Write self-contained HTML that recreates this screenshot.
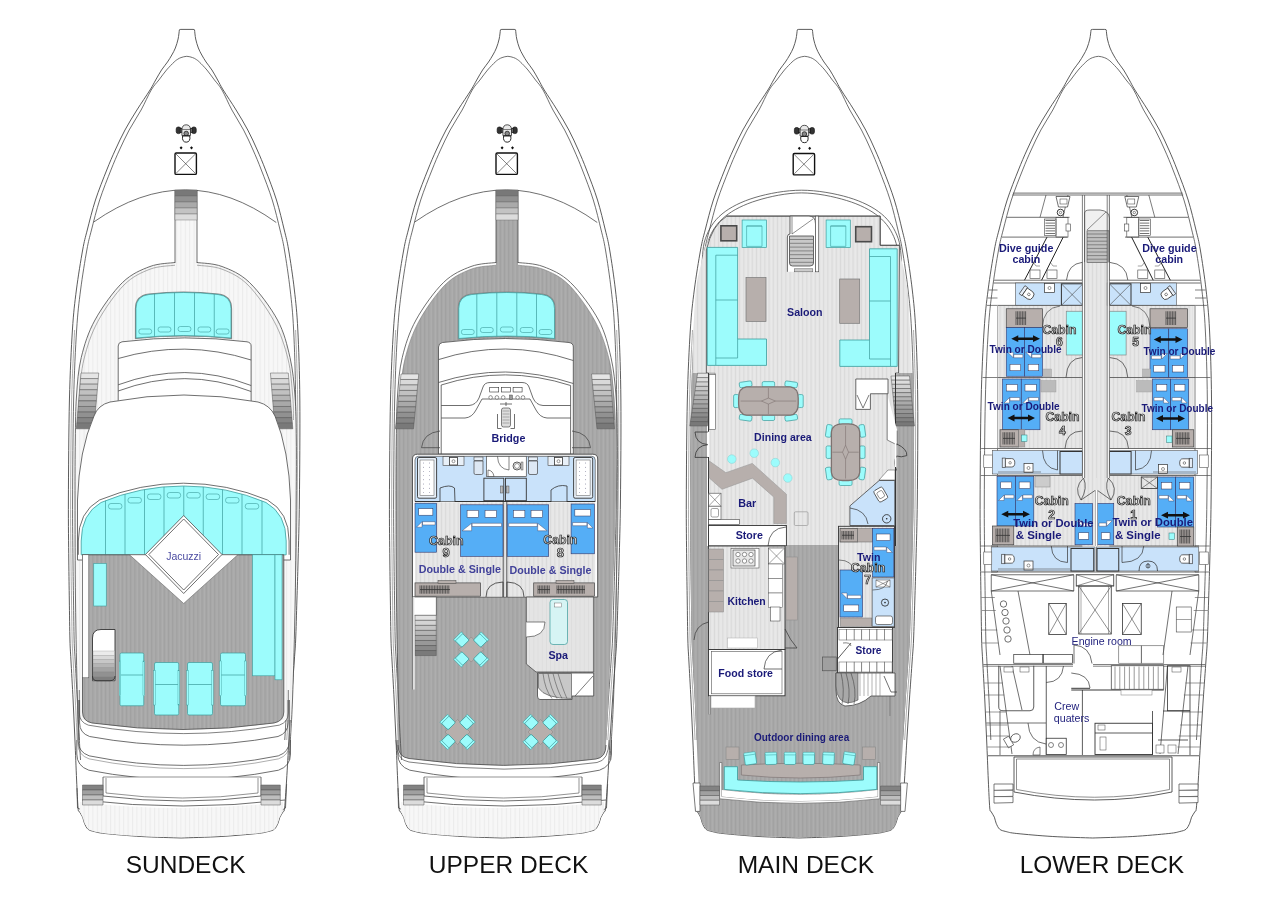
<!DOCTYPE html><html><head><meta charset="utf-8"><style>html,body{margin:0;padding:0;background:#fff;}svg{display:block;font-family:"Liberation Sans",sans-serif;will-change:transform;}</style></head><body>
<svg width="1280" height="903" viewBox="0 0 1280 903">
<defs>
<pattern id="pd" width="4.2" height="10" patternUnits="userSpaceOnUse"><rect width="4.2" height="10" fill="#a8a8a8"/><rect x="0" width="0.9" height="10" fill="#a0a0a0"/><rect x="2.3" width="0.9" height="10" fill="#b0b0b0"/></pattern>
<pattern id="pls" width="4.2" height="10" patternUnits="userSpaceOnUse"><rect width="4.2" height="10" fill="#e4e4e4"/><rect x="0" width="0.8" height="10" fill="#dcdcdc"/></pattern>
<pattern id="pl" width="4.2" height="10" patternUnits="userSpaceOnUse"><rect width="4.2" height="10" fill="#e5e5e5"/><rect x="0" width="0.9" height="10" fill="#d9d9d9"/><rect x="2.2" width="0.8" height="10" fill="#ececec"/></pattern>
<pattern id="pvl" width="4.4" height="10" patternUnits="userSpaceOnUse"><rect width="4.4" height="10" fill="#f7f7f7"/><rect x="0" width="1" height="10" fill="#ebebeb"/></pattern>
<linearGradient id="stg" x1="0" y1="0" x2="0" y2="1"><stop offset="0" stop-color="#777"/><stop offset="1" stop-color="#eee"/></linearGradient>
<linearGradient id="stg2" x1="0" y1="0" x2="0" y2="1"><stop offset="0" stop-color="#eee"/><stop offset="1" stop-color="#666"/></linearGradient>
</defs>
<rect width="1280" height="903" fill="#fff"/>
<path d="M181.08,838 C174.42,837.75 153.76,837.25 141.1,836.5 C128.44,835.75 112.95,834.33 105.12,833.5 C97.3,832.67 97,832.22 94.14,831.5 C91.28,830.78 89.58,830.58 87.96,829.2 C86.34,827.82 85.3,825.2 84.42,823.2 C83.53,821.2 83.52,819.15 82.67,817.2 C81.82,815.25 80.09,813.03 79.32,811.5 C78.55,809.97 78.51,813.25 78.05,808 C77.6,802.75 77.12,791.33 76.6,780 C76.09,768.67 75.54,753.33 74.95,740 C74.37,726.67 73.77,713.33 73.1,700 C72.43,686.67 71.46,670 70.93,660 C70.41,650 70.21,650 69.95,640 C69.68,630 69.51,613.33 69.32,600 C69.13,586.67 68.94,576.67 68.79,560 C68.63,543.33 68.29,526.67 68.4,500 C68.51,473.33 68.76,428.33 69.43,400 C70.1,371.67 71.26,348.33 72.42,330 C73.58,311.67 74.68,303.33 76.39,290 C78.09,276.67 80.83,260 82.65,250 C84.46,240 85.14,238.33 87.27,230 C89.41,221.67 92.22,210 95.46,200 C98.71,190 103.44,178.33 106.74,170 C110.04,161.67 112.22,156.67 115.26,150 C118.3,143.33 121.38,136.67 124.98,130 C128.59,123.33 132.73,116.67 136.9,110 C141.07,103.33 146.88,95 150.01,90 C153.14,85 153.75,83.33 155.67,80 C157.59,76.67 159.56,73 161.53,70 C163.49,67 165.76,64.5 167.47,62 C169.18,59.5 170.5,57.33 171.81,55 C173.12,52.67 174.3,50.67 175.35,48 C176.4,45.33 177.43,42 178.1,39 C178.76,36 179.14,31.5 179.35,30 Q179.15,29.4 180.85,29.4 L193.05,29.4 Q194.75,29.4 194.55,30 C194.74,31.5 195.06,36 195.7,39 C196.33,42 197.33,45.33 198.35,48 C199.37,50.67 200.52,52.67 201.81,55 C203.1,57.33 204.38,59.5 206.07,62 C207.76,64.5 209.99,67 211.93,70 C213.86,73 215.79,76.67 217.67,80 C219.55,83.33 220.14,85 223.21,90 C226.28,95 232,103.33 236.1,110 C240.19,116.67 244.25,123.33 247.78,130 C251.31,136.67 254.3,143.33 257.26,150 C260.22,156.67 262.34,161.67 265.54,170 C268.74,178.33 273.34,190 276.46,200 C279.58,210 282.24,221.67 284.27,230 C286.3,238.33 286.96,240 288.65,250 C290.33,260 292.86,276.67 294.39,290 C295.91,303.33 296.91,311.67 297.82,330 C298.73,348.33 299.57,371.67 299.83,400 C300.1,428.33 299.69,473.33 299.4,500 C299.11,526.67 298.5,543.33 298.09,560 C297.67,576.67 297.33,586.67 296.92,600 C296.51,613.33 296.08,630 295.65,640 C295.21,650 295.02,650 294.33,660 C293.64,670 292.39,686.67 291.5,700 C290.6,713.33 289.77,726.67 288.95,740 C288.14,753.33 287.32,768.67 286.6,780 C285.89,791.33 285.2,802.75 284.65,808 C284.11,813.25 284.12,809.97 283.32,811.5 C282.52,813.03 280.75,815.25 279.87,817.2 C278.99,819.15 278.93,821.2 278.02,823.2 C277.1,825.2 276.01,827.82 274.36,829.2 C272.72,830.58 271.01,830.78 268.14,831.5 C265.27,832.22 264.96,832.67 257.12,833.5 C249.28,834.33 233.77,835.75 221.1,836.5 C208.42,837.25 187.75,837.75 181.08,838" fill="none" stroke="#4a4a4a" stroke-width="0.9"/>
<path d="M79.15,740 C78.84,733.33 77.97,713.33 77.3,700 C76.63,686.67 75.66,670 75.13,660 C74.61,650 74.41,650 74.15,640 C73.88,630 73.71,613.33 73.52,600 C73.33,586.67 73.14,576.67 72.99,560 C72.83,543.33 72.49,526.67 72.6,500 C72.71,473.33 72.96,428.33 73.63,400 C74.3,371.67 75.46,348.33 76.62,330 C77.78,311.67 78.88,303.33 80.59,290 C82.29,276.67 85.03,260 86.85,250 C88.66,240 89.34,238.33 91.47,230 C93.61,221.67 96.42,210 99.66,200 C102.91,190 107.64,178.33 110.94,170 C114.24,161.67 116.42,156.67 119.46,150 C122.5,143.33 125.58,136.67 129.18,130 C132.79,123.33 137.43,116.67 141.1,110 C144.77,103.33 148.25,95 151.21,90 C154.17,85 156.32,83.33 158.87,80 C161.42,76.67 163.98,73 166.53,70 C169.08,67 172.29,63.8 174.17,62 C176.05,60.2 176.65,59.93 177.79,59.2 C178.92,58.47 179.49,58.08 180.99,57.6 C182.5,57.12 184.87,56.3 186.8,56.3 C188.73,56.3 191.1,57.12 192.59,57.6 C194.09,58.08 194.66,58.47 195.79,59.2 C196.91,59.93 197.51,60.2 199.37,62 C201.23,63.8 204.41,67 206.93,70 C209.44,73 211.95,76.67 214.47,80 C216.98,83.33 219.11,85 222.01,90 C224.92,95 228.3,103.33 231.9,110 C235.49,116.67 240.05,123.33 243.58,130 C247.11,136.67 250.1,143.33 253.06,150 C256.02,156.67 258.14,161.67 261.34,170 C264.54,178.33 269.14,190 272.26,200 C275.38,210 278.04,221.67 280.07,230 C282.1,238.33 282.76,240 284.45,250 C286.13,260 288.66,276.67 290.19,290 C291.71,303.33 292.71,311.67 293.62,330 C294.53,348.33 295.37,371.67 295.63,400 C295.9,428.33 295.49,473.33 295.2,500 C294.91,526.67 294.3,543.33 293.89,560 C293.47,576.67 293.13,586.67 292.72,600 C292.31,613.33 291.88,630 291.45,640 C291.01,650 290.82,650 290.13,660 C289.44,670 288.19,686.67 287.3,700 C286.4,713.33 285.18,733.33 284.75,740" fill="none" stroke="#4a4a4a" stroke-width="0.8"/>
<path d="M74.62,330 C74.12,341.67 72.3,371.67 71.63,400 C70.96,428.33 70.71,473.33 70.6,500 C70.49,526.67 70.83,543.33 70.99,560 C71.14,576.67 71.33,586.67 71.52,600 C71.71,613.33 71.88,630 72.15,640 C72.41,650 72.61,650 73.13,660 C73.66,670 74.63,686.67 75.3,700 C75.97,713.33 76.84,733.33 77.15,740" fill="none" stroke="#777" stroke-width="0.6"/>
<path d="M295.62,330 C295.95,341.67 297.37,371.67 297.63,400 C297.9,428.33 297.49,473.33 297.2,500 C296.91,526.67 296.3,543.33 295.89,560 C295.47,576.67 295.13,586.67 294.72,600 C294.31,613.33 293.88,630 293.45,640 C293.01,650 292.82,650 292.13,660 C291.44,670 290.19,686.67 289.3,700 C288.4,713.33 287.18,733.33 286.75,740" fill="none" stroke="#777" stroke-width="0.6"/>
<path d="M502.13,838 C495.47,837.75 474.81,837.25 462.15,836.5 C449.49,835.75 434,834.33 426.17,833.5 C418.35,832.67 418.05,832.22 415.19,831.5 C412.33,830.78 410.63,830.58 409.01,829.2 C407.39,827.82 406.35,825.2 405.47,823.2 C404.58,821.2 404.57,819.15 403.72,817.2 C402.87,815.25 401.14,813.03 400.37,811.5 C399.6,809.97 399.56,813.25 399.1,808 C398.65,802.75 398.17,791.33 397.65,780 C397.14,768.67 396.59,753.33 396,740 C395.42,726.67 394.82,713.33 394.15,700 C393.48,686.67 392.51,670 391.98,660 C391.46,650 391.26,650 391,640 C390.73,630 390.56,613.33 390.37,600 C390.18,586.67 389.99,576.67 389.84,560 C389.68,543.33 389.34,526.67 389.45,500 C389.56,473.33 389.81,428.33 390.48,400 C391.15,371.67 392.31,348.33 393.47,330 C394.63,311.67 395.73,303.33 397.44,290 C399.14,276.67 401.88,260 403.7,250 C405.51,240 406.19,238.33 408.32,230 C410.46,221.67 413.27,210 416.51,200 C419.76,190 424.49,178.33 427.79,170 C431.09,161.67 433.27,156.67 436.31,150 C439.35,143.33 442.43,136.67 446.03,130 C449.64,123.33 453.78,116.67 457.95,110 C462.12,103.33 467.93,95 471.06,90 C474.19,85 474.8,83.33 476.72,80 C478.64,76.67 480.61,73 482.58,70 C484.54,67 486.81,64.5 488.52,62 C490.23,59.5 491.55,57.33 492.86,55 C494.17,52.67 495.35,50.67 496.4,48 C497.45,45.33 498.48,42 499.15,39 C499.81,36 500.19,31.5 500.4,30 Q500.2,29.4 501.9,29.4 L514.1,29.4 Q515.8,29.4 515.6,30 C515.79,31.5 516.11,36 516.75,39 C517.38,42 518.38,45.33 519.4,48 C520.42,50.67 521.57,52.67 522.86,55 C524.15,57.33 525.43,59.5 527.12,62 C528.81,64.5 531.04,67 532.98,70 C534.91,73 536.84,76.67 538.72,80 C540.6,83.33 541.19,85 544.26,90 C547.33,95 553.05,103.33 557.15,110 C561.24,116.67 565.3,123.33 568.83,130 C572.36,136.67 575.35,143.33 578.31,150 C581.27,156.67 583.39,161.67 586.59,170 C589.79,178.33 594.39,190 597.51,200 C600.63,210 603.29,221.67 605.32,230 C607.35,238.33 608.01,240 609.7,250 C611.38,260 613.91,276.67 615.44,290 C616.96,303.33 617.96,311.67 618.87,330 C619.78,348.33 620.62,371.67 620.88,400 C621.15,428.33 620.74,473.33 620.45,500 C620.16,526.67 619.55,543.33 619.14,560 C618.72,576.67 618.38,586.67 617.97,600 C617.56,613.33 617.13,630 616.7,640 C616.26,650 616.07,650 615.38,660 C614.69,670 613.44,686.67 612.55,700 C611.65,713.33 610.82,726.67 610,740 C609.19,753.33 608.37,768.67 607.65,780 C606.94,791.33 606.25,802.75 605.7,808 C605.16,813.25 605.17,809.97 604.37,811.5 C603.57,813.03 601.8,815.25 600.92,817.2 C600.04,819.15 599.98,821.2 599.07,823.2 C598.15,825.2 597.06,827.82 595.41,829.2 C593.77,830.58 592.06,830.78 589.19,831.5 C586.32,832.22 586.01,832.67 578.17,833.5 C570.33,834.33 554.82,835.75 542.15,836.5 C529.47,837.25 508.8,837.75 502.13,838" fill="none" stroke="#4a4a4a" stroke-width="0.9"/>
<path d="M400.2,740 C399.89,733.33 399.02,713.33 398.35,700 C397.68,686.67 396.71,670 396.18,660 C395.66,650 395.46,650 395.2,640 C394.93,630 394.76,613.33 394.57,600 C394.38,586.67 394.19,576.67 394.04,560 C393.88,543.33 393.54,526.67 393.65,500 C393.76,473.33 394.01,428.33 394.68,400 C395.35,371.67 396.51,348.33 397.67,330 C398.83,311.67 399.93,303.33 401.64,290 C403.34,276.67 406.08,260 407.9,250 C409.71,240 410.39,238.33 412.52,230 C414.66,221.67 417.47,210 420.71,200 C423.96,190 428.69,178.33 431.99,170 C435.29,161.67 437.47,156.67 440.51,150 C443.55,143.33 446.63,136.67 450.23,130 C453.84,123.33 458.48,116.67 462.15,110 C465.82,103.33 469.3,95 472.26,90 C475.22,85 477.37,83.33 479.92,80 C482.47,76.67 485.03,73 487.58,70 C490.13,67 493.34,63.8 495.22,62 C497.1,60.2 497.7,59.93 498.84,59.2 C499.97,58.47 500.54,58.08 502.04,57.6 C503.55,57.12 505.92,56.3 507.85,56.3 C509.78,56.3 512.15,57.12 513.64,57.6 C515.14,58.08 515.71,58.47 516.84,59.2 C517.96,59.93 518.56,60.2 520.42,62 C522.28,63.8 525.46,67 527.98,70 C530.49,73 533,76.67 535.52,80 C538.03,83.33 540.16,85 543.06,90 C545.97,95 549.35,103.33 552.95,110 C556.54,116.67 561.1,123.33 564.63,130 C568.16,136.67 571.15,143.33 574.11,150 C577.07,156.67 579.19,161.67 582.39,170 C585.59,178.33 590.19,190 593.31,200 C596.43,210 599.09,221.67 601.12,230 C603.15,238.33 603.81,240 605.5,250 C607.18,260 609.71,276.67 611.24,290 C612.76,303.33 613.76,311.67 614.67,330 C615.58,348.33 616.42,371.67 616.68,400 C616.95,428.33 616.54,473.33 616.25,500 C615.96,526.67 615.35,543.33 614.94,560 C614.52,576.67 614.18,586.67 613.77,600 C613.36,613.33 612.93,630 612.5,640 C612.06,650 611.87,650 611.18,660 C610.49,670 609.24,686.67 608.35,700 C607.45,713.33 606.23,733.33 605.8,740" fill="none" stroke="#4a4a4a" stroke-width="0.8"/>
<path d="M395.67,330 C395.17,341.67 393.35,371.67 392.68,400 C392.01,428.33 391.76,473.33 391.65,500 C391.54,526.67 391.88,543.33 392.04,560 C392.19,576.67 392.38,586.67 392.57,600 C392.76,613.33 392.93,630 393.2,640 C393.46,650 393.66,650 394.18,660 C394.71,670 395.68,686.67 396.35,700 C397.02,713.33 397.89,733.33 398.2,740" fill="none" stroke="#777" stroke-width="0.6"/>
<path d="M616.67,330 C617,341.67 618.42,371.67 618.68,400 C618.95,428.33 618.54,473.33 618.25,500 C617.96,526.67 617.35,543.33 616.94,560 C616.52,576.67 616.18,586.67 615.77,600 C615.36,613.33 614.93,630 614.5,640 C614.06,650 613.87,650 613.18,660 C612.49,670 611.24,686.67 610.35,700 C609.45,713.33 608.23,733.33 607.8,740" fill="none" stroke="#777" stroke-width="0.6"/>
<path d="M798.98,838 C792.32,837.75 771.66,837.25 759,836.5 C746.34,835.75 730.85,834.33 723.02,833.5 C715.2,832.67 714.9,832.22 712.04,831.5 C709.18,830.78 707.48,830.58 705.86,829.2 C704.24,827.82 703.2,825.2 702.32,823.2 C701.43,821.2 701.42,819.15 700.57,817.2 C699.72,815.25 697.99,813.03 697.22,811.5 C696.45,809.97 696.41,813.25 695.95,808 C695.5,802.75 695.02,791.33 694.5,780 C693.99,768.67 693.44,753.33 692.85,740 C692.27,726.67 691.67,713.33 691,700 C690.33,686.67 689.36,670 688.83,660 C688.31,650 688.11,650 687.85,640 C687.58,630 687.41,613.33 687.22,600 C687.03,586.67 686.84,576.67 686.69,560 C686.53,543.33 686.19,526.67 686.3,500 C686.41,473.33 686.66,428.33 687.33,400 C688,371.67 689.16,348.33 690.32,330 C691.48,311.67 692.58,303.33 694.29,290 C695.99,276.67 698.73,260 700.55,250 C702.36,240 703.04,238.33 705.17,230 C707.31,221.67 710.12,210 713.36,200 C716.61,190 721.34,178.33 724.64,170 C727.94,161.67 730.12,156.67 733.16,150 C736.2,143.33 739.28,136.67 742.88,130 C746.49,123.33 750.63,116.67 754.8,110 C758.97,103.33 764.78,95 767.91,90 C771.04,85 771.65,83.33 773.57,80 C775.49,76.67 777.46,73 779.43,70 C781.39,67 783.66,64.5 785.37,62 C787.08,59.5 788.4,57.33 789.71,55 C791.02,52.67 792.2,50.67 793.25,48 C794.3,45.33 795.33,42 796,39 C796.66,36 797.04,31.5 797.25,30 Q797.05,29.4 798.75,29.4 L810.95,29.4 Q812.65,29.4 812.45,30 C812.64,31.5 812.96,36 813.6,39 C814.23,42 815.23,45.33 816.25,48 C817.27,50.67 818.42,52.67 819.71,55 C821,57.33 822.28,59.5 823.97,62 C825.66,64.5 827.89,67 829.83,70 C831.76,73 833.69,76.67 835.57,80 C837.45,83.33 838.04,85 841.11,90 C844.18,95 849.9,103.33 854,110 C858.09,116.67 862.15,123.33 865.68,130 C869.21,136.67 872.2,143.33 875.16,150 C878.12,156.67 880.24,161.67 883.44,170 C886.64,178.33 891.24,190 894.36,200 C897.48,210 900.14,221.67 902.17,230 C904.2,238.33 904.86,240 906.55,250 C908.23,260 910.76,276.67 912.29,290 C913.81,303.33 914.81,311.67 915.72,330 C916.63,348.33 917.47,371.67 917.73,400 C918,428.33 917.59,473.33 917.3,500 C917.01,526.67 916.4,543.33 915.99,560 C915.57,576.67 915.23,586.67 914.82,600 C914.41,613.33 913.98,630 913.55,640 C913.11,650 912.92,650 912.23,660 C911.54,670 910.29,686.67 909.4,700 C908.5,713.33 907.67,726.67 906.85,740 C906.04,753.33 905.22,768.67 904.5,780 C903.79,791.33 903.1,802.75 902.55,808 C902.01,813.25 902.02,809.97 901.22,811.5 C900.42,813.03 898.65,815.25 897.77,817.2 C896.89,819.15 896.83,821.2 895.92,823.2 C895,825.2 893.91,827.82 892.26,829.2 C890.62,830.58 888.91,830.78 886.04,831.5 C883.17,832.22 882.86,832.67 875.02,833.5 C867.18,834.33 851.67,835.75 839,836.5 C826.32,837.25 805.65,837.75 798.98,838" fill="none" stroke="#4a4a4a" stroke-width="0.9"/>
<path d="M697.05,740 C696.74,733.33 695.87,713.33 695.2,700 C694.53,686.67 693.56,670 693.03,660 C692.51,650 692.31,650 692.05,640 C691.78,630 691.61,613.33 691.42,600 C691.23,586.67 691.04,576.67 690.89,560 C690.73,543.33 690.39,526.67 690.5,500 C690.61,473.33 690.86,428.33 691.53,400 C692.2,371.67 693.36,348.33 694.52,330 C695.68,311.67 696.78,303.33 698.49,290 C700.19,276.67 702.93,260 704.75,250 C706.56,240 707.24,238.33 709.37,230 C711.51,221.67 714.32,210 717.56,200 C720.81,190 725.54,178.33 728.84,170 C732.14,161.67 734.32,156.67 737.36,150 C740.4,143.33 743.48,136.67 747.08,130 C750.69,123.33 755.33,116.67 759,110 C762.67,103.33 766.15,95 769.11,90 C772.07,85 774.22,83.33 776.77,80 C779.32,76.67 781.88,73 784.43,70 C786.98,67 790.19,63.8 792.07,62 C793.95,60.2 794.55,59.93 795.69,59.2 C796.82,58.47 797.39,58.08 798.89,57.6 C800.4,57.12 802.77,56.3 804.7,56.3 C806.63,56.3 809,57.12 810.49,57.6 C811.99,58.08 812.56,58.47 813.69,59.2 C814.81,59.93 815.41,60.2 817.27,62 C819.13,63.8 822.31,67 824.83,70 C827.34,73 829.85,76.67 832.37,80 C834.88,83.33 837.01,85 839.91,90 C842.82,95 846.2,103.33 849.8,110 C853.39,116.67 857.95,123.33 861.48,130 C865.01,136.67 868,143.33 870.96,150 C873.92,156.67 876.04,161.67 879.24,170 C882.44,178.33 887.04,190 890.16,200 C893.28,210 895.94,221.67 897.97,230 C900,238.33 900.66,240 902.35,250 C904.03,260 906.56,276.67 908.09,290 C909.61,303.33 910.61,311.67 911.52,330 C912.43,348.33 913.27,371.67 913.53,400 C913.8,428.33 913.39,473.33 913.1,500 C912.81,526.67 912.2,543.33 911.79,560 C911.37,576.67 911.03,586.67 910.62,600 C910.21,613.33 909.78,630 909.35,640 C908.91,650 908.72,650 908.03,660 C907.34,670 906.09,686.67 905.2,700 C904.3,713.33 903.08,733.33 902.65,740" fill="none" stroke="#4a4a4a" stroke-width="0.8"/>
<path d="M692.52,330 C692.02,341.67 690.2,371.67 689.53,400 C688.86,428.33 688.61,473.33 688.5,500 C688.39,526.67 688.73,543.33 688.89,560 C689.04,576.67 689.23,586.67 689.42,600 C689.61,613.33 689.78,630 690.05,640 C690.31,650 690.51,650 691.03,660 C691.56,670 692.53,686.67 693.2,700 C693.87,713.33 694.74,733.33 695.05,740" fill="none" stroke="#777" stroke-width="0.6"/>
<path d="M913.52,330 C913.85,341.67 915.27,371.67 915.53,400 C915.8,428.33 915.39,473.33 915.1,500 C914.81,526.67 914.2,543.33 913.79,560 C913.37,576.67 913.03,586.67 912.62,600 C912.21,613.33 911.78,630 911.35,640 C910.91,650 910.72,650 910.03,660 C909.34,670 908.09,686.67 907.2,700 C906.3,713.33 905.08,733.33 904.65,740" fill="none" stroke="#777" stroke-width="0.6"/>
<path d="M1092.78,838 C1086.12,837.75 1065.46,837.25 1052.8,836.5 C1040.14,835.75 1024.65,834.33 1016.82,833.5 C1009,832.67 1008.7,832.22 1005.84,831.5 C1002.98,830.78 1001.28,830.58 999.66,829.2 C998.04,827.82 997,825.2 996.12,823.2 C995.23,821.2 995.22,819.15 994.37,817.2 C993.52,815.25 991.79,813.03 991.02,811.5 C990.25,809.97 990.21,813.25 989.75,808 C989.3,802.75 988.82,791.33 988.3,780 C987.79,768.67 987.24,753.33 986.65,740 C986.07,726.67 985.47,713.33 984.8,700 C984.13,686.67 983.16,670 982.63,660 C982.11,650 981.91,650 981.65,640 C981.38,630 981.21,613.33 981.02,600 C980.83,586.67 980.64,576.67 980.49,560 C980.33,543.33 979.99,526.67 980.1,500 C980.21,473.33 980.46,428.33 981.13,400 C981.8,371.67 982.96,348.33 984.12,330 C985.28,311.67 986.38,303.33 988.09,290 C989.79,276.67 992.53,260 994.35,250 C996.16,240 996.84,238.33 998.97,230 C1001.11,221.67 1003.92,210 1007.16,200 C1010.41,190 1015.14,178.33 1018.44,170 C1021.74,161.67 1023.92,156.67 1026.96,150 C1030,143.33 1033.08,136.67 1036.68,130 C1040.29,123.33 1044.43,116.67 1048.6,110 C1052.77,103.33 1058.58,95 1061.71,90 C1064.84,85 1065.45,83.33 1067.37,80 C1069.29,76.67 1071.26,73 1073.23,70 C1075.19,67 1077.46,64.5 1079.17,62 C1080.88,59.5 1082.2,57.33 1083.51,55 C1084.82,52.67 1086,50.67 1087.05,48 C1088.1,45.33 1089.13,42 1089.8,39 C1090.46,36 1090.84,31.5 1091.05,30 Q1090.85,29.4 1092.55,29.4 L1104.75,29.4 Q1106.45,29.4 1106.25,30 C1106.44,31.5 1106.76,36 1107.4,39 C1108.03,42 1109.03,45.33 1110.05,48 C1111.07,50.67 1112.22,52.67 1113.51,55 C1114.8,57.33 1116.08,59.5 1117.77,62 C1119.46,64.5 1121.69,67 1123.63,70 C1125.56,73 1127.49,76.67 1129.37,80 C1131.25,83.33 1131.84,85 1134.91,90 C1137.98,95 1143.7,103.33 1147.8,110 C1151.89,116.67 1155.95,123.33 1159.48,130 C1163.01,136.67 1166,143.33 1168.96,150 C1171.92,156.67 1174.04,161.67 1177.24,170 C1180.44,178.33 1185.04,190 1188.16,200 C1191.28,210 1193.94,221.67 1195.97,230 C1198,238.33 1198.66,240 1200.35,250 C1202.03,260 1204.56,276.67 1206.09,290 C1207.61,303.33 1208.61,311.67 1209.52,330 C1210.43,348.33 1211.27,371.67 1211.53,400 C1211.8,428.33 1211.39,473.33 1211.1,500 C1210.81,526.67 1210.2,543.33 1209.79,560 C1209.37,576.67 1209.03,586.67 1208.62,600 C1208.21,613.33 1207.78,630 1207.35,640 C1206.91,650 1206.72,650 1206.03,660 C1205.34,670 1204.09,686.67 1203.2,700 C1202.3,713.33 1201.47,726.67 1200.65,740 C1199.84,753.33 1199.02,768.67 1198.3,780 C1197.59,791.33 1196.9,802.75 1196.35,808 C1195.81,813.25 1195.82,809.97 1195.02,811.5 C1194.22,813.03 1192.45,815.25 1191.57,817.2 C1190.69,819.15 1190.63,821.2 1189.72,823.2 C1188.8,825.2 1187.71,827.82 1186.06,829.2 C1184.42,830.58 1182.71,830.78 1179.84,831.5 C1176.97,832.22 1176.66,832.67 1168.82,833.5 C1160.98,834.33 1145.47,835.75 1132.8,836.5 C1120.12,837.25 1099.45,837.75 1092.78,838" fill="none" stroke="#4a4a4a" stroke-width="0.9"/>
<path d="M990.85,740 C990.54,733.33 989.67,713.33 989,700 C988.33,686.67 987.36,670 986.83,660 C986.31,650 986.11,650 985.85,640 C985.58,630 985.41,613.33 985.22,600 C985.03,586.67 984.84,576.67 984.69,560 C984.53,543.33 984.19,526.67 984.3,500 C984.41,473.33 984.66,428.33 985.33,400 C986,371.67 987.16,348.33 988.32,330 C989.48,311.67 990.58,303.33 992.29,290 C993.99,276.67 996.73,260 998.55,250 C1000.36,240 1001.04,238.33 1003.17,230 C1005.31,221.67 1008.12,210 1011.36,200 C1014.61,190 1019.34,178.33 1022.64,170 C1025.94,161.67 1028.12,156.67 1031.16,150 C1034.2,143.33 1037.28,136.67 1040.88,130 C1044.49,123.33 1049.13,116.67 1052.8,110 C1056.47,103.33 1059.95,95 1062.91,90 C1065.87,85 1068.02,83.33 1070.57,80 C1073.12,76.67 1075.68,73 1078.23,70 C1080.78,67 1083.99,63.8 1085.87,62 C1087.75,60.2 1088.35,59.93 1089.49,59.2 C1090.62,58.47 1091.19,58.08 1092.69,57.6 C1094.2,57.12 1096.57,56.3 1098.5,56.3 C1100.43,56.3 1102.8,57.12 1104.29,57.6 C1105.79,58.08 1106.36,58.47 1107.49,59.2 C1108.61,59.93 1109.21,60.2 1111.07,62 C1112.93,63.8 1116.11,67 1118.63,70 C1121.14,73 1123.65,76.67 1126.17,80 C1128.68,83.33 1130.81,85 1133.71,90 C1136.62,95 1140,103.33 1143.6,110 C1147.19,116.67 1151.75,123.33 1155.28,130 C1158.81,136.67 1161.8,143.33 1164.76,150 C1167.72,156.67 1169.84,161.67 1173.04,170 C1176.24,178.33 1180.84,190 1183.96,200 C1187.08,210 1189.74,221.67 1191.77,230 C1193.8,238.33 1194.46,240 1196.15,250 C1197.83,260 1200.36,276.67 1201.89,290 C1203.41,303.33 1204.41,311.67 1205.32,330 C1206.23,348.33 1207.07,371.67 1207.33,400 C1207.6,428.33 1207.19,473.33 1206.9,500 C1206.61,526.67 1206,543.33 1205.59,560 C1205.17,576.67 1204.83,586.67 1204.42,600 C1204.01,613.33 1203.58,630 1203.15,640 C1202.71,650 1202.52,650 1201.83,660 C1201.14,670 1199.89,686.67 1199,700 C1198.1,713.33 1196.88,733.33 1196.45,740" fill="none" stroke="#4a4a4a" stroke-width="0.8"/>
<g transform="translate(0,0)">
<g transform="translate(0,0)">
<g stroke="#111" stroke-width="0.7">
<rect x="176.2" y="127" width="4.6" height="6.6" rx="2" fill="#333"/>
<rect x="191.6" y="127" width="4.6" height="6.6" rx="2" fill="#333"/>
<rect x="180.2" y="128.3" width="2" height="4" fill="#777"/>
<rect x="190.2" y="128.3" width="2" height="4" fill="#777"/>
<path d="M181.9,135.5 L181.9,130 Q181.9,124.8 186.2,124.8 Q190.5,124.8 190.5,130 L190.5,135.5 Z" fill="#e8e8e8"/>
<path d="M182.2,129.5 L190.2,129.5" stroke-width="0.5"/>
<circle cx="186.2" cy="133.5" r="2.3" fill="#888"/>
<path d="M182.6,136 Q181.7,142 186.2,142.2 Q190.7,142 189.8,136 Z" fill="#fff" stroke-width="0.9"/>
</g>
<path d="M181.1,146.2 l1.5,1.6 l-1.5,1.6 l-1.5,-1.6Z M191.5,146.2 l1.5,1.6 l-1.5,1.6 l-1.5,-1.6Z" fill="#111"/>
<rect x="175" y="153" width="21.4" height="21.4" rx="1.2" fill="#fff" stroke="#111" stroke-width="1.4"/>
<path d="M176,154 L195.4,173.4 M195.4,154 L176,173.4" stroke="#333" stroke-width="0.6"/>
</g>
<clipPath id="fwdclip0"><rect x="0" y="180" width="400" height="540"/></clipPath>
<path d="M80.5,760 C80,750 78.33,726.67 77.5,700 C76.67,673.33 75.92,633.33 75.5,600 C75.08,566.67 75.03,526.67 75,500 C74.97,473.33 75.05,457.33 75.3,440 C75.55,422.67 75.51,409.75 76.5,396 C77.49,382.25 78.17,370.17 81.25,357.5 C84.33,344.83 88.12,332.5 95,320 C101.88,307.5 113.33,291.42 122.5,282.5 C131.67,273.58 141.25,269.83 150,266.5 C158.75,263.17 170.83,263.17 175,262.5 L175,190 L197,190 L197,262.5 C201.17,263.17 213.25,263.17 222,266.5 C230.75,269.83 240.25,273.58 249.5,282.5 C258.75,291.42 270.75,307.5 277.5,320 C284.25,332.5 287.08,344.83 290,357.5 C292.92,370.17 293.95,382.25 295,396 C296.05,409.75 296.1,422.67 296.3,440 C296.5,457.33 296.38,473.33 296.2,500 C296.02,526.67 295.82,566.67 295.2,600 C294.58,633.33 293.53,673.33 292.5,700 C291.47,726.67 289.58,750 289,760 Z" fill="url(#pvl)" stroke="none" clip-path="url(#fwdclip0)"/>
<path d="M175,262.5 C170.83,263.17 158.75,263.17 150,266.5 C141.25,269.83 131.67,273.58 122.5,282.5 C113.33,291.42 101.88,307.5 95,320 C88.12,332.5 84.33,344.83 81.25,357.5 C78.17,370.17 77.49,382.25 76.5,396 C75.51,409.75 75.55,422.67 75.3,440 C75.05,457.33 74.97,473.33 75,500 C75.03,526.67 75.08,566.67 75.5,600 C75.92,633.33 76.67,673.33 77.5,700 C78.33,726.67 80,750 80.5,760" fill="none" stroke="#4a4a4a" stroke-width="0.8"/>
<path d="M197,262.5 C201.17,263.17 213.25,263.17 222,266.5 C230.75,269.83 240.25,273.58 249.5,282.5 C258.75,291.42 270.75,307.5 277.5,320 C284.25,332.5 287.08,344.83 290,357.5 C292.92,370.17 293.95,382.25 295,396 C296.05,409.75 296.1,422.67 296.3,440 C296.5,457.33 296.38,473.33 296.2,500 C296.02,526.67 295.82,566.67 295.2,600 C294.58,633.33 293.53,673.33 292.5,700 C291.47,726.67 289.58,750 289,760" fill="none" stroke="#4a4a4a" stroke-width="0.8"/>
<path d="M175,265.2 C170.83,265.87 158.5,265.9 150,269.2 C141.5,272.5 132.7,276.28 124,285 C115.3,293.72 104.47,309.17 97.8,321.5 C91.13,333.83 87.08,346.58 84,359 C80.92,371.42 80.22,385.83 79.3,396 C78.38,406.17 78.63,416 78.5,420" fill="none" stroke="#777" stroke-width="0.6"/>
<path d="M197,265.2 C201.17,265.87 213.5,265.9 222,269.2 C230.5,272.5 239.3,276.28 248,285 C256.7,293.72 267.53,309.17 274.2,321.5 C280.87,333.83 284.92,346.58 288,359 C291.08,371.42 291.78,385.83 292.7,396 C293.62,406.17 293.37,416 293.5,420" fill="none" stroke="#777" stroke-width="0.6"/>
<path d="M93.75,222 Q186,157.5 276.25,222.5" fill="none" stroke="#4a4a4a" stroke-width="0.8"/>
<path d="M175,190 L175,263 M197,190 L197,263" stroke="#4a4a4a" stroke-width="0.8"/>
<rect x="175" y="190" width="22" height="6" fill="#787878" stroke="#666" stroke-width="0.4"/>
<rect x="175" y="196" width="22" height="6" fill="#919191" stroke="#666" stroke-width="0.4"/>
<rect x="175" y="202" width="22" height="6" fill="#aaaaaa" stroke="#666" stroke-width="0.4"/>
<rect x="175" y="208" width="22" height="6" fill="#c3c3c3" stroke="#666" stroke-width="0.4"/>
<rect x="175" y="214" width="22" height="6" fill="#dcdcdc" stroke="#666" stroke-width="0.4"/>
</g>
<path d="M136,338 L136,308.5 Q136,296 149,294.5 Q183.5,290.5 218,294.5 Q231,296 231,308.5 L231,338 Q183.5,333 136,338 Z" fill="#fff" stroke="#888" stroke-width="2.2"/>
<clipPath id="cs136"><path d="M136,338 L136,308.5 Q136,296 149,294.5 Q183.5,290.5 218,294.5 Q231,296 231,308.5 L231,338 Q183.5,333 136,338 Z"/></clipPath>
<path d="M136,338 L136,308.5 Q136,296 149,294.5 Q183.5,290.5 218,294.5 Q231,296 231,308.5 L231,338 Q183.5,333 136,338 Z" fill="#9cfcfc" stroke="#3c9c9c" stroke-width="0.7"/>
<g clip-path="url(#cs136)">
<line x1="154.5" y1="289.5" x2="154.5" y2="338" stroke="#3c9c9c" stroke-width="0.7"/>
<line x1="174.5" y1="289.5" x2="174.5" y2="338" stroke="#3c9c9c" stroke-width="0.7"/>
<line x1="194.5" y1="289.5" x2="194.5" y2="338" stroke="#3c9c9c" stroke-width="0.7"/>
<line x1="214.25" y1="289.5" x2="214.25" y2="338" stroke="#3c9c9c" stroke-width="0.7"/>
</g>
<rect x="138.85" y="329" width="12.8" height="5" rx="2.2" fill="none" stroke="#3c9c9c" stroke-width="0.6"/>
<rect x="158.1" y="327" width="12.8" height="5" rx="2.2" fill="none" stroke="#3c9c9c" stroke-width="0.6"/>
<rect x="178.1" y="326.5" width="12.8" height="5" rx="2.2" fill="none" stroke="#3c9c9c" stroke-width="0.6"/>
<rect x="197.97" y="327" width="12.8" height="5" rx="2.2" fill="none" stroke="#3c9c9c" stroke-width="0.6"/>
<rect x="216.22" y="329" width="12.8" height="5" rx="2.2" fill="none" stroke="#3c9c9c" stroke-width="0.6"/>
<g transform="translate(0,0)">
<path d="M118.2,401 L118.2,346 Q118.2,342.5 122,341.8 Q185,334 247,341.8 Q251.1,342.5 251.1,346 L251.1,401" fill="#fff" stroke="#4a4a4a" stroke-width="0.8"/>
<path d="M118.2,358.5 Q185,339 251.1,360" fill="none" stroke="#4a4a4a" stroke-width="0.8"/>
<path d="M118.2,384.8 Q185,360 251.1,385.5" fill="none" stroke="#4a4a4a" stroke-width="0.8"/>
<path d="M118.2,391 Q185,366 251.1,391.5" fill="none" stroke="#4a4a4a" stroke-width="0.8"/>
</g>
<path d="M81,373 L98.75,373 L98.28,378.58 L80.53,378.58 Z" fill="#e5e5e5" stroke="#555" stroke-width="0.5"/>
<path d="M80.53,378.58 L98.28,378.58 L97.8,384.16 L80.06,384.16 Z" fill="#d9d9d9" stroke="#555" stroke-width="0.5"/>
<path d="M80.06,384.16 L97.8,384.16 L97.33,389.74 L79.59,389.74 Z" fill="#cdcdcd" stroke="#555" stroke-width="0.5"/>
<path d="M79.59,389.74 L97.33,389.74 L96.85,395.32 L79.12,395.32 Z" fill="#c1c1c1" stroke="#555" stroke-width="0.5"/>
<path d="M79.12,395.32 L96.85,395.32 L96.38,400.9 L78.65,400.9 Z" fill="#b5b5b5" stroke="#555" stroke-width="0.5"/>
<path d="M78.65,400.9 L96.38,400.9 L95.9,406.48 L78.18,406.48 Z" fill="#a9a9a9" stroke="#555" stroke-width="0.5"/>
<path d="M78.18,406.48 L95.9,406.48 L95.42,412.06 L77.71,412.06 Z" fill="#9d9d9d" stroke="#555" stroke-width="0.5"/>
<path d="M77.71,412.06 L95.42,412.06 L94.95,417.64 L77.24,417.64 Z" fill="#919191" stroke="#555" stroke-width="0.5"/>
<path d="M77.24,417.64 L94.95,417.64 L94.47,423.22 L76.77,423.22 Z" fill="#858585" stroke="#555" stroke-width="0.5"/>
<path d="M76.77,423.22 L94.47,423.22 L94,428.8 L76.3,428.8 Z" fill="#797979" stroke="#555" stroke-width="0.5"/>
<path d="M270.4,373 L288.3,373 L288.75,378.58 L270.86,378.58 Z" fill="#e5e5e5" stroke="#555" stroke-width="0.5"/>
<path d="M270.86,378.58 L288.75,378.58 L289.2,384.16 L271.32,384.16 Z" fill="#d9d9d9" stroke="#555" stroke-width="0.5"/>
<path d="M271.32,384.16 L289.2,384.16 L289.65,389.74 L271.78,389.74 Z" fill="#cdcdcd" stroke="#555" stroke-width="0.5"/>
<path d="M271.78,389.74 L289.65,389.74 L290.1,395.32 L272.24,395.32 Z" fill="#c1c1c1" stroke="#555" stroke-width="0.5"/>
<path d="M272.24,395.32 L290.1,395.32 L290.55,400.9 L272.7,400.9 Z" fill="#b5b5b5" stroke="#555" stroke-width="0.5"/>
<path d="M272.7,400.9 L290.55,400.9 L291,406.48 L273.16,406.48 Z" fill="#a9a9a9" stroke="#555" stroke-width="0.5"/>
<path d="M273.16,406.48 L291,406.48 L291.45,412.06 L273.62,412.06 Z" fill="#9d9d9d" stroke="#555" stroke-width="0.5"/>
<path d="M273.62,412.06 L291.45,412.06 L291.9,417.64 L274.08,417.64 Z" fill="#919191" stroke="#555" stroke-width="0.5"/>
<path d="M274.08,417.64 L291.9,417.64 L292.35,423.22 L274.54,423.22 Z" fill="#858585" stroke="#555" stroke-width="0.5"/>
<path d="M274.54,423.22 L292.35,423.22 L292.8,428.8 L275,428.8 Z" fill="#797979" stroke="#555" stroke-width="0.5"/>
<path d="M77.5,500 Q79,450 94,416 Q98,405 110,402 Q184,388 258,402 Q270,405 275,416 Q289,450 290.5,500 L290.5,560 L77.5,560 Z" fill="#fff" stroke="#4a4a4a" stroke-width="0.8"/>
<path d="M78.3,554.8 L78.3,541 Q78.3,512 99.5,500 Q140,483.2 183.5,483.2 Q227,483.2 267.5,500 Q289.1,512 289.1,541 L289.1,554.8" fill="#fff" stroke="#4a4a4a" stroke-width="0.8"/>
<clipPath id="sbclip"><path d="M81.2,554.8 L81.2,541 Q81.2,514 101,502.5 Q140,486 183.5,486 Q227,486 266,502.5 Q286.2,514 286.2,541 L286.2,554.8 Z"/></clipPath>
<path d="M81.2,554.8 L81.2,541 Q81.2,514 101,502.5 Q140,486 183.5,486 Q227,486 266,502.5 Q286.2,514 286.2,541 L286.2,554.8 Z" fill="#9cfcfc" stroke="#3c9c9c" stroke-width="0.8"/>
<g clip-path="url(#sbclip)">
<line x1="105.5" y1="480" x2="105.5" y2="554.8" stroke="#3c9c9c" stroke-width="0.7"/>
<line x1="125" y1="480" x2="125" y2="554.8" stroke="#3c9c9c" stroke-width="0.7"/>
<line x1="144.5" y1="480" x2="144.5" y2="554.8" stroke="#3c9c9c" stroke-width="0.7"/>
<line x1="164" y1="480" x2="164" y2="554.8" stroke="#3c9c9c" stroke-width="0.7"/>
<line x1="183.75" y1="480" x2="183.75" y2="554.8" stroke="#3c9c9c" stroke-width="0.7"/>
<line x1="203.25" y1="480" x2="203.25" y2="554.8" stroke="#3c9c9c" stroke-width="0.7"/>
<line x1="222.5" y1="480" x2="222.5" y2="554.8" stroke="#3c9c9c" stroke-width="0.7"/>
<line x1="242" y1="480" x2="242" y2="554.8" stroke="#3c9c9c" stroke-width="0.7"/>
<line x1="262" y1="480" x2="262" y2="554.8" stroke="#3c9c9c" stroke-width="0.7"/>
</g>
<path d="M82.5,554.8 L283.8,554.8 L283.8,712 Q283.8,721 274,723 Q183,736 92,723 Q82.5,721 82.5,712 Z" fill="url(#pd)" stroke="#4a4a4a" stroke-width="0.8"/>
<rect x="82.5" y="554.8" width="6.3" height="123" fill="#fff" stroke="#4a4a4a" stroke-width="0.5"/>
<path d="M129.5,554.8 L183.7,603.5 L237.8,554.8 Z" fill="#fff" stroke="#666" stroke-width="0.6"/>
<path d="M183.7,515.5 L222,554.5 L183.7,593.5 L145.4,554.5 Z" fill="#fff" stroke="#4a4a4a" stroke-width="0.8"/>
<path d="M183.7,519 L218.5,554.5 L183.7,590 L148.9,554.5 Z" fill="#fff" stroke="#4a4a4a" stroke-width="0.8"/>
<text x="183.7" y="559.5" font-size="10.5" text-anchor="middle" fill="#4a4aa0">Jacuzzi</text>
<rect x="108.45" y="503.5" width="13.5" height="5.5" rx="2.5" fill="none" stroke="#3c9c9c" stroke-width="0.6"/>
<rect x="127.95" y="497.5" width="13.5" height="5.5" rx="2.5" fill="none" stroke="#3c9c9c" stroke-width="0.6"/>
<rect x="147.45" y="494" width="13.5" height="5.5" rx="2.5" fill="none" stroke="#3c9c9c" stroke-width="0.6"/>
<rect x="167.15" y="492.5" width="13.5" height="5.5" rx="2.5" fill="none" stroke="#3c9c9c" stroke-width="0.6"/>
<rect x="186.75" y="492.5" width="13.5" height="5.5" rx="2.5" fill="none" stroke="#3c9c9c" stroke-width="0.6"/>
<rect x="206.15" y="494" width="13.5" height="5.5" rx="2.5" fill="none" stroke="#3c9c9c" stroke-width="0.6"/>
<rect x="225.55" y="497.5" width="13.5" height="5.5" rx="2.5" fill="none" stroke="#3c9c9c" stroke-width="0.6"/>
<rect x="245.25" y="503.5" width="13.5" height="5.5" rx="2.5" fill="none" stroke="#3c9c9c" stroke-width="0.6"/>
<rect x="93.75" y="563.5" width="12.5" height="42.5" fill="#9cfcfc" stroke="#3c9c9c" stroke-width="0.6"/>
<rect x="252.5" y="554.8" width="22.5" height="121" fill="#9cfcfc" stroke="#3c9c9c" stroke-width="0.6"/>
<rect x="275" y="554.8" width="7" height="125" fill="#9cfcfc" stroke="#3c9c9c" stroke-width="0.6"/>
<rect x="120" y="653" width="23.75" height="52.75" rx="1.5" fill="#9cfcfc" stroke="#3c9c9c" stroke-width="0.7"/>
<line x1="120" y1="675" x2="143.75" y2="675" stroke="#3c9c9c" stroke-width="0.7"/>
<rect x="119.2" y="661" width="1.6" height="34.75" fill="#9cfcfc" stroke="#3c9c9c" stroke-width="0.4"/>
<rect x="142.95" y="661" width="1.6" height="34.75" fill="#9cfcfc" stroke="#3c9c9c" stroke-width="0.4"/>
<rect x="154.5" y="662.5" width="24.25" height="52.5" rx="1.5" fill="#9cfcfc" stroke="#3c9c9c" stroke-width="0.7"/>
<line x1="154.5" y1="684.5" x2="178.75" y2="684.5" stroke="#3c9c9c" stroke-width="0.7"/>
<rect x="153.7" y="670.5" width="1.6" height="34.5" fill="#9cfcfc" stroke="#3c9c9c" stroke-width="0.4"/>
<rect x="177.95" y="670.5" width="1.6" height="34.5" fill="#9cfcfc" stroke="#3c9c9c" stroke-width="0.4"/>
<rect x="187.5" y="662.5" width="25" height="52.5" rx="1.5" fill="#9cfcfc" stroke="#3c9c9c" stroke-width="0.7"/>
<line x1="187.5" y1="684.5" x2="212.5" y2="684.5" stroke="#3c9c9c" stroke-width="0.7"/>
<rect x="186.7" y="670.5" width="1.6" height="34.5" fill="#9cfcfc" stroke="#3c9c9c" stroke-width="0.4"/>
<rect x="211.7" y="670.5" width="1.6" height="34.5" fill="#9cfcfc" stroke="#3c9c9c" stroke-width="0.4"/>
<rect x="220.5" y="653" width="25" height="52.75" rx="1.5" fill="#9cfcfc" stroke="#3c9c9c" stroke-width="0.7"/>
<line x1="220.5" y1="675" x2="245.5" y2="675" stroke="#3c9c9c" stroke-width="0.7"/>
<rect x="219.7" y="661" width="1.6" height="34.75" fill="#9cfcfc" stroke="#3c9c9c" stroke-width="0.4"/>
<rect x="244.7" y="661" width="1.6" height="34.75" fill="#9cfcfc" stroke="#3c9c9c" stroke-width="0.4"/>
<path d="M92.5,680.7 L92.5,638 Q92.5,629.5 101,629.5 L115,629.5 L115,680.7 Z" fill="#fff" stroke="#333" stroke-width="0.9"/>
<rect x="93" y="651" width="21.5" height="4.2" fill="#ebebeb" stroke="#888" stroke-width="0.3"/>
<rect x="93" y="655.2" width="21.5" height="4.2" fill="#d9d9d9" stroke="#888" stroke-width="0.3"/>
<rect x="93" y="659.4" width="21.5" height="4.2" fill="#c7c7c7" stroke="#888" stroke-width="0.3"/>
<rect x="93" y="663.6" width="21.5" height="4.2" fill="#b5b5b5" stroke="#888" stroke-width="0.3"/>
<rect x="93" y="667.8" width="21.5" height="4.2" fill="#a3a3a3" stroke="#888" stroke-width="0.3"/>
<rect x="93" y="672" width="21.5" height="4.2" fill="#919191" stroke="#888" stroke-width="0.3"/>
<rect x="93" y="676.2" width="21.5" height="4.2" fill="#7f7f7f" stroke="#888" stroke-width="0.3"/>
<path d="M92.5,676 Q92.5,680.7 97,680.7 L110,680.7 Q115,680.7 115,676" fill="none" stroke="#333" stroke-width="0.9"/>
<g transform="translate(0,0)">
<path d="M79.3,690 L79.3,713 Q79.3,722 88.3,725.15 Q183.8,742.05 279.3,725.15 Q288.3,722 288.3,713 L288.3,690" fill="none" stroke="#4a4a4a" stroke-width="0.7"/>
<path d="M79.6,700 L79.6,723 Q79.6,733 89.6,736.5 Q183.8,753.9 278,736.5 Q288,733 288,723 L288,700" fill="none" stroke="#4a4a4a" stroke-width="0.8"/>
<path d="M78.2,700 L78.2,741 Q78.2,752 89.2,755.85 Q183.75,774.95 278.3,755.85 Q289.3,752 289.3,741 L289.3,700" fill="none" stroke="#4a4a4a" stroke-width="0.8"/>
<path d="M78,700 L78,744 Q78,755 89,758.85 Q183.75,778.35 278.5,758.85 Q289.5,755 289.5,744 L289.5,700" fill="none" stroke="#777" stroke-width="0.6"/>
<path d="M76.8,740 L76.8,754 Q76.8,766 88.8,770.2 Q183.65,789 278.5,770.2 Q290.5,766 290.5,754 L290.5,740" fill="none" stroke="#4a4a4a" stroke-width="0.8"/>
<path d="M77,788 L77.5,808 L84,811 L84,790 M286.6,784 L285.5,808 L279,812 L279,786" fill="none" stroke="#4a4a4a" stroke-width="0.8"/>
<path d="M80,802 L79.8,811.5 L82.8,817.2 L84.6,823.2 L88.2,829.2 L94.4,831.5 L105.4,833.5 Q181,841 257,833.5 L268,831.5 L274.2,829.2 L277.8,823.2 L279.6,817.2 L282.8,811.5 L283,802 Q183,814 80,802 Z" fill="url(#pvl)" stroke="none"/>
<path d="M82,800 Q183,812 285,800" fill="none" stroke="#4a4a4a" stroke-width="0.8"/>
<path d="M103,777 L103,796 Q183,806 261,796 L261,777" fill="#fff" stroke="#4a4a4a" stroke-width="0.8"/>
<path d="M106,778 L106,793 Q183,803 258,793 L258,778" fill="none" stroke="#4a4a4a" stroke-width="0.6"/>
<path d="M103,777 L261,777" fill="none" stroke="#4a4a4a" stroke-width="0.6"/>
<path d="M82.5,785 L103,785 L103,790 L82.5,790 Z" fill="#828282" stroke="#555" stroke-width="0.5"/>
<path d="M82.5,790 L103,790 L103,795 L82.5,795 Z" fill="#a0a0a0" stroke="#555" stroke-width="0.5"/>
<path d="M82.5,795 L103,795 L103,800 L82.5,800 Z" fill="#bebebe" stroke="#555" stroke-width="0.5"/>
<path d="M82.5,800 L103,800 L103,805 L82.5,805 Z" fill="#dcdcdc" stroke="#555" stroke-width="0.5"/>
<path d="M261,785 L280.3,785 L280.3,790 L261,790 Z" fill="#828282" stroke="#555" stroke-width="0.5"/>
<path d="M261,790 L280.3,790 L280.3,795 L261,795 Z" fill="#a0a0a0" stroke="#555" stroke-width="0.5"/>
<path d="M261,795 L280.3,795 L280.3,800 L261,800 Z" fill="#bebebe" stroke="#555" stroke-width="0.5"/>
<path d="M261,800 L280.3,800 L280.3,805 L261,805 Z" fill="#dcdcdc" stroke="#555" stroke-width="0.5"/>
</g>
<path d="M398,745 C397.92,737.5 397.75,724.17 397.5,700 C397.25,675.83 396.75,633.33 396.5,600 C396.25,566.67 395.98,526.67 396,500 C396.02,473.33 395.97,457.33 396.6,440 C397.23,422.67 398.4,409.5 399.8,396 C401.2,382.5 401.83,371.42 405,359 C408.17,346.58 412.13,333.83 418.8,321.5 C425.47,309.17 436.3,293.72 445,285 C453.7,276.28 462.5,272.5 471,269.2 C479.5,265.9 491.83,265.87 496,265.2 L496,190 L518,190 L518,265.2 C522.17,265.87 534.5,265.9 543,269.2 C551.5,272.5 560.3,276.28 569,285 C577.7,293.72 588.53,309.17 595.2,321.5 C601.87,333.83 605.83,346.58 609,359 C612.17,371.42 612.95,382.5 614.2,396 C615.45,409.5 616.2,422.67 616.5,440 C616.8,457.33 616.63,473.33 616,500 C615.37,526.67 613.95,566.67 612.7,600 C611.45,633.33 609.62,675.83 608.5,700 C607.38,724.17 606.42,737.5 606,745 Q606,757.5 596,759 Q505,772 409,758.5 Q398,757 398,745 Z" fill="url(#pd)" stroke="none"/>
<path d="M398,745 Q398,757 409,758.5 Q505,772 596,759 Q606,757.5 606,745" fill="none" stroke="#4a4a4a" stroke-width="0.8"/>
<g transform="translate(321,0)">
<g transform="translate(0,0)">
<g stroke="#111" stroke-width="0.7">
<rect x="176.2" y="127" width="4.6" height="6.6" rx="2" fill="#333"/>
<rect x="191.6" y="127" width="4.6" height="6.6" rx="2" fill="#333"/>
<rect x="180.2" y="128.3" width="2" height="4" fill="#777"/>
<rect x="190.2" y="128.3" width="2" height="4" fill="#777"/>
<path d="M181.9,135.5 L181.9,130 Q181.9,124.8 186.2,124.8 Q190.5,124.8 190.5,130 L190.5,135.5 Z" fill="#e8e8e8"/>
<path d="M182.2,129.5 L190.2,129.5" stroke-width="0.5"/>
<circle cx="186.2" cy="133.5" r="2.3" fill="#888"/>
<path d="M182.6,136 Q181.7,142 186.2,142.2 Q190.7,142 189.8,136 Z" fill="#fff" stroke-width="0.9"/>
</g>
<path d="M181.1,146.2 l1.5,1.6 l-1.5,1.6 l-1.5,-1.6Z M191.5,146.2 l1.5,1.6 l-1.5,1.6 l-1.5,-1.6Z" fill="#111"/>
<rect x="175" y="153" width="21.4" height="21.4" rx="1.2" fill="#fff" stroke="#111" stroke-width="1.4"/>
<path d="M176,154 L195.4,173.4 M195.4,154 L176,173.4" stroke="#333" stroke-width="0.6"/>
</g>
<path d="M175,262.5 C170.83,263.17 158.75,263.17 150,266.5 C141.25,269.83 131.67,273.58 122.5,282.5 C113.33,291.42 101.88,307.5 95,320 C88.12,332.5 84.33,344.83 81.25,357.5 C78.17,370.17 77.49,382.25 76.5,396 C75.51,409.75 75.55,422.67 75.3,440 C75.05,457.33 74.97,473.33 75,500 C75.03,526.67 75.08,566.67 75.5,600 C75.92,633.33 76.67,673.33 77.5,700 C78.33,726.67 80,750 80.5,760" fill="none" stroke="#4a4a4a" stroke-width="0.8"/>
<path d="M197,262.5 C201.17,263.17 213.25,263.17 222,266.5 C230.75,269.83 240.25,273.58 249.5,282.5 C258.75,291.42 270.75,307.5 277.5,320 C284.25,332.5 287.08,344.83 290,357.5 C292.92,370.17 293.95,382.25 295,396 C296.05,409.75 296.1,422.67 296.3,440 C296.5,457.33 296.38,473.33 296.2,500 C296.02,526.67 295.82,566.67 295.2,600 C294.58,633.33 293.53,673.33 292.5,700 C291.47,726.67 289.58,750 289,760" fill="none" stroke="#4a4a4a" stroke-width="0.8"/>
<path d="M175,265.2 C170.83,265.87 158.5,265.9 150,269.2 C141.5,272.5 132.7,276.28 124,285 C115.3,293.72 104.47,309.17 97.8,321.5 C91.13,333.83 87.08,346.58 84,359 C80.92,371.42 80.22,385.83 79.3,396 C78.38,406.17 78.63,416 78.5,420" fill="none" stroke="#777" stroke-width="0.6"/>
<path d="M197,265.2 C201.17,265.87 213.5,265.9 222,269.2 C230.5,272.5 239.3,276.28 248,285 C256.7,293.72 267.53,309.17 274.2,321.5 C280.87,333.83 284.92,346.58 288,359 C291.08,371.42 291.78,385.83 292.7,396 C293.62,406.17 293.37,416 293.5,420" fill="none" stroke="#777" stroke-width="0.6"/>
<path d="M93.75,222 Q186,157.5 276.25,222.5" fill="none" stroke="#4a4a4a" stroke-width="0.8"/>
<path d="M175,190 L175,263 M197,190 L197,263" stroke="#4a4a4a" stroke-width="0.8"/>
<rect x="175" y="190" width="22" height="6" fill="#787878" stroke="#666" stroke-width="0.4"/>
<rect x="175" y="196" width="22" height="6" fill="#919191" stroke="#666" stroke-width="0.4"/>
<rect x="175" y="202" width="22" height="6" fill="#aaaaaa" stroke="#666" stroke-width="0.4"/>
<rect x="175" y="208" width="22" height="6" fill="#c3c3c3" stroke="#666" stroke-width="0.4"/>
<rect x="175" y="214" width="22" height="6" fill="#dcdcdc" stroke="#666" stroke-width="0.4"/>
</g>
<path d="M458.75,338.5 L458.75,308.5 Q458.75,296 471.75,294.5 Q506.62,290.5 541.5,294.5 Q554.5,296 554.5,308.5 L554.5,338.5 Q506.62,333.5 458.75,338.5 Z" fill="#fff" stroke="#888" stroke-width="2.2"/>
<clipPath id="cs458"><path d="M458.75,338.5 L458.75,308.5 Q458.75,296 471.75,294.5 Q506.62,290.5 541.5,294.5 Q554.5,296 554.5,308.5 L554.5,338.5 Q506.62,333.5 458.75,338.5 Z"/></clipPath>
<path d="M458.75,338.5 L458.75,308.5 Q458.75,296 471.75,294.5 Q506.62,290.5 541.5,294.5 Q554.5,296 554.5,308.5 L554.5,338.5 Q506.62,333.5 458.75,338.5 Z" fill="#9cfcfc" stroke="#3c9c9c" stroke-width="0.7"/>
<g clip-path="url(#cs458)">
<line x1="476.8" y1="289.5" x2="476.8" y2="338.5" stroke="#3c9c9c" stroke-width="0.7"/>
<line x1="496.8" y1="289.5" x2="496.8" y2="338.5" stroke="#3c9c9c" stroke-width="0.7"/>
<line x1="516.8" y1="289.5" x2="516.8" y2="338.5" stroke="#3c9c9c" stroke-width="0.7"/>
<line x1="536.5" y1="289.5" x2="536.5" y2="338.5" stroke="#3c9c9c" stroke-width="0.7"/>
</g>
<rect x="461.38" y="329.5" width="12.8" height="5" rx="2.2" fill="none" stroke="#3c9c9c" stroke-width="0.6"/>
<rect x="480.4" y="327.5" width="12.8" height="5" rx="2.2" fill="none" stroke="#3c9c9c" stroke-width="0.6"/>
<rect x="500.4" y="327" width="12.8" height="5" rx="2.2" fill="none" stroke="#3c9c9c" stroke-width="0.6"/>
<rect x="520.25" y="327.5" width="12.8" height="5" rx="2.2" fill="none" stroke="#3c9c9c" stroke-width="0.6"/>
<rect x="539.1" y="329.5" width="12.8" height="5" rx="2.2" fill="none" stroke="#3c9c9c" stroke-width="0.6"/>
<path d="M438.5,454 L438.5,347 Q438.5,343.2 442.5,342.5 Q505,334.5 569,342.5 Q573.3,343.2 573.3,347 L573.3,454 Z" fill="#fff" stroke="#4a4a4a" stroke-width="0.8"/>
<path d="M438.5,359.6 Q505,338 573.3,360.5" fill="none" stroke="#4a4a4a" stroke-width="0.8"/>
<path d="M438.5,382.5 Q505,361 573.3,383.5" fill="none" stroke="#4a4a4a" stroke-width="0.8"/>
<path d="M441.2,385 Q505,364.5 570.6,385.5 L570.6,454 L441.2,454 Z" fill="#fff" stroke="#4a4a4a" stroke-width="0.8"/>
<path d="M441.2,405.5 L469,405.5 Q476,405 479,398 L483,387 Q484.5,382.5 490,382.5 L522,382.5 Q527.5,382.5 529,387 L533,398 Q536,405 543,405.5 L570.6,405.5" fill="none" stroke="#4a4a4a" stroke-width="0.8"/>
<path d="M441.2,418 L465,418 Q472,417.5 476,410 L482,399 L530,399 L536,410 Q540,417.5 547,418 L570.6,418" fill="none" stroke="#4a4a4a" stroke-width="0.8"/>
<rect x="489.7" y="387.5" width="9" height="4.5" fill="#fff" stroke="#333" stroke-width="0.6"/>
<rect x="501.4" y="387.5" width="9" height="4.5" fill="#fff" stroke="#333" stroke-width="0.6"/>
<rect x="513.1" y="387.5" width="9" height="4.5" fill="#fff" stroke="#333" stroke-width="0.6"/>
<circle cx="490.6" cy="397.4" r="1.8" fill="#fff" stroke="#333" stroke-width="0.5"/>
<circle cx="496.9" cy="397.4" r="1.8" fill="#fff" stroke="#333" stroke-width="0.5"/>
<circle cx="503.2" cy="397.4" r="1.8" fill="#fff" stroke="#333" stroke-width="0.5"/>
<circle cx="517.6" cy="397.4" r="1.8" fill="#fff" stroke="#333" stroke-width="0.5"/>
<circle cx="523" cy="397.4" r="1.8" fill="#fff" stroke="#333" stroke-width="0.5"/>
<rect x="509.5" y="395" width="3" height="4.8" fill="#999" stroke="#333" stroke-width="0.4"/>
<path d="M500,404 L512,404 M506,402 L506,406" stroke="#333" stroke-width="0.7"/>
<rect x="501.5" y="408" width="9" height="19" rx="2" fill="#ddd" stroke="#333" stroke-width="0.6"/>
<path d="M497.5,414 L497.5,428.5 L501.5,428.5 M514.5,414 L514.5,428.5 L510.5,428.5" fill="none" stroke="#333" stroke-width="0.7"/>
<line x1="502.5" y1="411" x2="509.5" y2="411" stroke="#555" stroke-width="0.4"/>
<line x1="502.5" y1="414" x2="509.5" y2="414" stroke="#555" stroke-width="0.4"/>
<line x1="502.5" y1="417" x2="509.5" y2="417" stroke="#555" stroke-width="0.4"/>
<line x1="502.5" y1="420" x2="509.5" y2="420" stroke="#555" stroke-width="0.4"/>
<line x1="502.5" y1="423" x2="509.5" y2="423" stroke="#555" stroke-width="0.4"/>
<text x="508.4" y="441.6" font-size="11.6" font-weight="bold" text-anchor="middle" fill="#1a1a78" textLength="34" lengthAdjust="spacingAndGlyphs">Bridge</text>
<path d="M440,431 Q423,433 421.5,447.7 L440,447.7" fill="none" stroke="#4a4a4a" stroke-width="0.8"/>
<path d="M572,431 Q589,433 590.5,447.7 L572,447.7" fill="none" stroke="#4a4a4a" stroke-width="0.8"/>
<path d="M401,374 L418.75,374 L418.23,379.48 L400.44,379.48 Z" fill="#e5e5e5" stroke="#555" stroke-width="0.5"/>
<path d="M400.44,379.48 L418.23,379.48 L417.7,384.96 L399.88,384.96 Z" fill="#d9d9d9" stroke="#555" stroke-width="0.5"/>
<path d="M399.88,384.96 L417.7,384.96 L417.18,390.44 L399.32,390.44 Z" fill="#cdcdcd" stroke="#555" stroke-width="0.5"/>
<path d="M399.32,390.44 L417.18,390.44 L416.65,395.92 L398.76,395.92 Z" fill="#c1c1c1" stroke="#555" stroke-width="0.5"/>
<path d="M398.76,395.92 L416.65,395.92 L416.12,401.4 L398.2,401.4 Z" fill="#b5b5b5" stroke="#555" stroke-width="0.5"/>
<path d="M398.2,401.4 L416.12,401.4 L415.6,406.88 L397.64,406.88 Z" fill="#a9a9a9" stroke="#555" stroke-width="0.5"/>
<path d="M397.64,406.88 L415.6,406.88 L415.07,412.36 L397.08,412.36 Z" fill="#9d9d9d" stroke="#555" stroke-width="0.5"/>
<path d="M397.08,412.36 L415.07,412.36 L414.55,417.84 L396.52,417.84 Z" fill="#919191" stroke="#555" stroke-width="0.5"/>
<path d="M396.52,417.84 L414.55,417.84 L414.02,423.32 L395.96,423.32 Z" fill="#858585" stroke="#555" stroke-width="0.5"/>
<path d="M395.96,423.32 L414.02,423.32 L413.5,428.8 L395.4,428.8 Z" fill="#797979" stroke="#555" stroke-width="0.5"/>
<path d="M591.5,374 L610,374 L610.45,379.48 L592.05,379.48 Z" fill="#e5e5e5" stroke="#555" stroke-width="0.5"/>
<path d="M592.05,379.48 L610.45,379.48 L610.9,384.96 L592.6,384.96 Z" fill="#d9d9d9" stroke="#555" stroke-width="0.5"/>
<path d="M592.6,384.96 L610.9,384.96 L611.35,390.44 L593.15,390.44 Z" fill="#cdcdcd" stroke="#555" stroke-width="0.5"/>
<path d="M593.15,390.44 L611.35,390.44 L611.8,395.92 L593.7,395.92 Z" fill="#c1c1c1" stroke="#555" stroke-width="0.5"/>
<path d="M593.7,395.92 L611.8,395.92 L612.25,401.4 L594.25,401.4 Z" fill="#b5b5b5" stroke="#555" stroke-width="0.5"/>
<path d="M594.25,401.4 L612.25,401.4 L612.7,406.88 L594.8,406.88 Z" fill="#a9a9a9" stroke="#555" stroke-width="0.5"/>
<path d="M594.8,406.88 L612.7,406.88 L613.15,412.36 L595.35,412.36 Z" fill="#9d9d9d" stroke="#555" stroke-width="0.5"/>
<path d="M595.35,412.36 L613.15,412.36 L613.6,417.84 L595.9,417.84 Z" fill="#919191" stroke="#555" stroke-width="0.5"/>
<path d="M595.9,417.84 L613.6,417.84 L614.05,423.32 L596.45,423.32 Z" fill="#858585" stroke="#555" stroke-width="0.5"/>
<path d="M596.45,423.32 L614.05,423.32 L614.5,428.8 L597,428.8 Z" fill="#797979" stroke="#555" stroke-width="0.5"/>
<path d="M412.5,597 L412.5,459 Q412.5,454.2 417.5,454.2 L592.7,454.2 Q597.7,454.2 597.7,459 L597.7,597 Z" fill="#fff" stroke="#4a4a4a" stroke-width="0.9"/>
<rect x="415" y="502.3" width="180.2" height="94.2" fill="url(#pl)" stroke="none"/>
<path d="M415,501.5 L415,460 Q415,456.3 418.5,456.3 L591.7,456.3 Q595.2,456.3 595.2,460 L595.2,501.5 Z" fill="#c9e2fa" stroke="#4a4a4a" stroke-width="0.7"/>
<rect x="486.4" y="456.3" width="39.9" height="20.3" fill="#fff" stroke="#4a4a4a" stroke-width="0.7"/>
<rect x="483.9" y="478.2" width="19.9" height="22.5" fill="#c9e2fa" stroke="#333" stroke-width="0.9"/>
<rect x="505.5" y="478.2" width="20.8" height="22.5" fill="#c9e2fa" stroke="#333" stroke-width="0.9"/>
<rect x="500.5" y="486" width="2.5" height="7" fill="#bbb" stroke="#333" stroke-width="0.4"/><rect x="506.5" y="486" width="2.5" height="7" fill="#bbb" stroke="#333" stroke-width="0.4"/>
<rect x="417.5" y="457.5" width="19.1" height="40.7" rx="1.5" fill="#e8f0f8" stroke="#333" stroke-width="0.9"/>
<rect x="420" y="460" width="14" height="35.5" fill="#fff" stroke="#555" stroke-width="0.5"/>
<circle cx="423.5" cy="463" r="0.45" fill="#557"/><circle cx="429.5" cy="463" r="0.45" fill="#557"/>
<circle cx="423.5" cy="467.2" r="0.45" fill="#557"/><circle cx="429.5" cy="467.2" r="0.45" fill="#557"/>
<circle cx="423.5" cy="471.4" r="0.45" fill="#557"/><circle cx="429.5" cy="471.4" r="0.45" fill="#557"/>
<circle cx="423.5" cy="475.6" r="0.45" fill="#557"/><circle cx="429.5" cy="475.6" r="0.45" fill="#557"/>
<circle cx="423.5" cy="479.8" r="0.45" fill="#557"/><circle cx="429.5" cy="479.8" r="0.45" fill="#557"/>
<circle cx="423.5" cy="484" r="0.45" fill="#557"/><circle cx="429.5" cy="484" r="0.45" fill="#557"/>
<circle cx="423.5" cy="488.2" r="0.45" fill="#557"/><circle cx="429.5" cy="488.2" r="0.45" fill="#557"/>
<circle cx="423.5" cy="492.4" r="0.45" fill="#557"/><circle cx="429.5" cy="492.4" r="0.45" fill="#557"/>
<rect x="573.6" y="457.5" width="19.1" height="40.7" rx="1.5" fill="#e8f0f8" stroke="#333" stroke-width="0.9"/>
<rect x="576.1" y="460" width="14" height="35.5" fill="#fff" stroke="#555" stroke-width="0.5"/>
<circle cx="579.6" cy="463" r="0.45" fill="#557"/><circle cx="585.6" cy="463" r="0.45" fill="#557"/>
<circle cx="579.6" cy="467.2" r="0.45" fill="#557"/><circle cx="585.6" cy="467.2" r="0.45" fill="#557"/>
<circle cx="579.6" cy="471.4" r="0.45" fill="#557"/><circle cx="585.6" cy="471.4" r="0.45" fill="#557"/>
<circle cx="579.6" cy="475.6" r="0.45" fill="#557"/><circle cx="585.6" cy="475.6" r="0.45" fill="#557"/>
<circle cx="579.6" cy="479.8" r="0.45" fill="#557"/><circle cx="585.6" cy="479.8" r="0.45" fill="#557"/>
<circle cx="579.6" cy="484" r="0.45" fill="#557"/><circle cx="585.6" cy="484" r="0.45" fill="#557"/>
<circle cx="579.6" cy="488.2" r="0.45" fill="#557"/><circle cx="585.6" cy="488.2" r="0.45" fill="#557"/>
<circle cx="579.6" cy="492.4" r="0.45" fill="#557"/><circle cx="585.6" cy="492.4" r="0.45" fill="#557"/>
<rect x="443" y="456.6" width="21" height="9" fill="#e8f0f8" stroke="#444" stroke-width="0.6"/>
<rect x="449.5" y="457.5" width="8" height="7.5" fill="#fff" stroke="#333" stroke-width="0.8"/><circle cx="453.5" cy="461.2" r="1.5" fill="none" stroke="#333" stroke-width="0.5"/>
<rect x="474" y="457" width="9" height="3.5" fill="#e8f0f8" stroke="#444" stroke-width="0.6"/><path d="M474,461 L474,473 Q474,474.5 475.5,474.5 L481.5,474.5 Q483,474.5 483,473 L483,461 Z" fill="#dde8f4" stroke="#444" stroke-width="0.7"/>
<rect x="548" y="456.6" width="21" height="9" fill="#e8f0f8" stroke="#444" stroke-width="0.6"/>
<rect x="554.5" y="457.5" width="8" height="7.5" fill="#fff" stroke="#333" stroke-width="0.8"/><circle cx="558.5" cy="461.2" r="1.5" fill="none" stroke="#333" stroke-width="0.5"/>
<rect x="528.5" y="457" width="9" height="3.5" fill="#e8f0f8" stroke="#444" stroke-width="0.6"/><path d="M528.5,461 L528.5,473 Q528.5,474.5 530,474.5 L536,474.5 Q537.5,474.5 537.5,473 L537.5,461 Z" fill="#dde8f4" stroke="#444" stroke-width="0.7"/>
<circle cx="517" cy="466" r="4" fill="#fff" stroke="#333" stroke-width="0.8"/><circle cx="517" cy="466" r="2.5" fill="none" stroke="#333" stroke-width="0.5"/><rect x="521" y="462" width="2" height="8" fill="#ccc" stroke="#333" stroke-width="0.4"/>
<path d="M497.5,456.5 Q498,469 509,470 L509,456.5" fill="none" stroke="#333" stroke-width="0.6"/>
<path d="M488,476.5 L488,470 Q493,470.5 494,476.5 Z" fill="#fff" stroke="#333" stroke-width="0.6"/>
<path d="M440,502 L440,488 Q450,484 454.5,488 L455,502" fill="none" stroke="#333" stroke-width="0.8"/>
<path d="M551,502 L551,490 Q558,484 567,486 L567,502" fill="none" stroke="#333" stroke-width="0.8"/>
<path d="M415,501.5 L440,501.5 M455,501.5 L551,501.5 M567,501.5 L595.2,501.5" stroke="#333" stroke-width="1"/>
<path d="M503.2,501.5 L503.2,597 M506.8,501.5 L506.8,597" stroke="#333" stroke-width="0.8"/>
<rect x="415" y="503.2" width="21.6" height="49" fill="#55aef6" stroke="#336" stroke-width="0.6"/>
<rect x="418.75" y="508.7" width="14.1" height="6.5" fill="#fff" stroke="#335" stroke-width="0.5"/>
<path d="M422,521.7 L422,527.2 L416.5,527.2 Z M422.5,521.7 L435.1,521.7 L435.1,524.9 L422.5,524.9 Z" fill="#fff" stroke="#335" stroke-width="0.4"/>
<rect x="460.6" y="504.8" width="42.4" height="51.5" fill="#55aef6" stroke="#336" stroke-width="0.6"/>
<rect x="467.07" y="510.3" width="11.5" height="7" fill="#fff" stroke="#335" stroke-width="0.5"/>
<rect x="485.03" y="510.3" width="11.5" height="7" fill="#fff" stroke="#335" stroke-width="0.5"/>
<path d="M471.6,523.3 L471.6,530.8 L462.1,530.8 Z M472.1,523.3 L501.5,523.3 L501.5,526.5 L472.1,526.5 Z" fill="#fff" stroke="#335" stroke-width="0.4"/>
<rect x="507.2" y="504.8" width="41.5" height="51.5" fill="#55aef6" stroke="#336" stroke-width="0.6"/>
<rect x="513.37" y="510.3" width="11.5" height="7" fill="#fff" stroke="#335" stroke-width="0.5"/>
<rect x="531.03" y="510.3" width="11.5" height="7" fill="#fff" stroke="#335" stroke-width="0.5"/>
<path d="M537.7,523.3 L537.7,530.8 L547.2,530.8 Z M537.2,523.3 L508.7,523.3 L508.7,526.5 L537.2,526.5 Z" fill="#fff" stroke="#335" stroke-width="0.4"/>
<rect x="571.1" y="504" width="23.3" height="49.8" fill="#55aef6" stroke="#336" stroke-width="0.6"/>
<rect x="574.85" y="509.5" width="15.8" height="6.5" fill="#fff" stroke="#335" stroke-width="0.5"/>
<path d="M587.4,522.5 L587.4,528 L592.9,528 Z M586.9,522.5 L572.6,522.5 L572.6,525.7 L586.9,525.7 Z" fill="#fff" stroke="#335" stroke-width="0.4"/>
<text x="446.3" y="544.5" font-size="13" font-weight="bold" text-anchor="middle" fill="#d4d4d4" stroke="#151515" stroke-width="0.65" textLength="34.5" lengthAdjust="spacingAndGlyphs">Cabin</text>
<text x="446.2" y="557" font-size="13" font-weight="bold" text-anchor="middle" fill="#d4d4d4" stroke="#151515" stroke-width="0.65">9</text>
<text x="560.3" y="543.7" font-size="13" font-weight="bold" text-anchor="middle" fill="#d4d4d4" stroke="#151515" stroke-width="0.65" textLength="34" lengthAdjust="spacingAndGlyphs">Cabin</text>
<text x="560.3" y="556.5" font-size="13" font-weight="bold" text-anchor="middle" fill="#d4d4d4" stroke="#151515" stroke-width="0.65">8</text>
<text x="459.8" y="572.6" font-size="11" font-weight="bold" text-anchor="middle" fill="#42429a" textLength="82.2" lengthAdjust="spacingAndGlyphs">Double &amp; Single</text>
<text x="550.5" y="574.2" font-size="11" font-weight="bold" text-anchor="middle" fill="#42429a" textLength="81.8" lengthAdjust="spacingAndGlyphs">Double &amp; Single</text>
<rect x="415" y="582.9" width="65.6" height="13.3" fill="#b7afac" stroke="#444" stroke-width="0.7"/>
<line x1="420" y1="585.4" x2="420" y2="593.7" stroke="#333" stroke-width="0.7"/>
<line x1="421.6" y1="585.4" x2="421.6" y2="593.7" stroke="#333" stroke-width="0.7"/>
<line x1="423.2" y1="585.4" x2="423.2" y2="593.7" stroke="#333" stroke-width="0.7"/>
<line x1="424.8" y1="585.4" x2="424.8" y2="593.7" stroke="#333" stroke-width="0.7"/>
<line x1="426.4" y1="585.4" x2="426.4" y2="593.7" stroke="#333" stroke-width="0.7"/>
<line x1="428" y1="585.4" x2="428" y2="593.7" stroke="#333" stroke-width="0.7"/>
<line x1="429.6" y1="585.4" x2="429.6" y2="593.7" stroke="#333" stroke-width="0.7"/>
<line x1="431.2" y1="585.4" x2="431.2" y2="593.7" stroke="#333" stroke-width="0.7"/>
<line x1="432.8" y1="585.4" x2="432.8" y2="593.7" stroke="#333" stroke-width="0.7"/>
<line x1="434.4" y1="585.4" x2="434.4" y2="593.7" stroke="#333" stroke-width="0.7"/>
<line x1="436" y1="585.4" x2="436" y2="593.7" stroke="#333" stroke-width="0.7"/>
<line x1="437.6" y1="585.4" x2="437.6" y2="593.7" stroke="#333" stroke-width="0.7"/>
<line x1="439.2" y1="585.4" x2="439.2" y2="593.7" stroke="#333" stroke-width="0.7"/>
<line x1="440.8" y1="585.4" x2="440.8" y2="593.7" stroke="#333" stroke-width="0.7"/>
<line x1="442.4" y1="585.4" x2="442.4" y2="593.7" stroke="#333" stroke-width="0.7"/>
<line x1="444" y1="585.4" x2="444" y2="593.7" stroke="#333" stroke-width="0.7"/>
<line x1="445.6" y1="585.4" x2="445.6" y2="593.7" stroke="#333" stroke-width="0.7"/>
<line x1="447.2" y1="585.4" x2="447.2" y2="593.7" stroke="#333" stroke-width="0.7"/>
<line x1="448.8" y1="585.4" x2="448.8" y2="593.7" stroke="#333" stroke-width="0.7"/>
<line x1="420" y1="589.55" x2="450" y2="589.55" stroke="#333" stroke-width="0.8"/>
<rect x="438" y="580.5" width="18" height="3" fill="#b7afac" stroke="#444" stroke-width="0.5"/>
<rect x="533.7" y="582.9" width="60.7" height="13.3" fill="#b7afac" stroke="#444" stroke-width="0.7"/>
<line x1="538" y1="585.4" x2="538" y2="593.7" stroke="#333" stroke-width="0.7"/>
<line x1="539.6" y1="585.4" x2="539.6" y2="593.7" stroke="#333" stroke-width="0.7"/>
<line x1="541.2" y1="585.4" x2="541.2" y2="593.7" stroke="#333" stroke-width="0.7"/>
<line x1="542.8" y1="585.4" x2="542.8" y2="593.7" stroke="#333" stroke-width="0.7"/>
<line x1="544.4" y1="585.4" x2="544.4" y2="593.7" stroke="#333" stroke-width="0.7"/>
<line x1="546" y1="585.4" x2="546" y2="593.7" stroke="#333" stroke-width="0.7"/>
<line x1="547.6" y1="585.4" x2="547.6" y2="593.7" stroke="#333" stroke-width="0.7"/>
<line x1="549.2" y1="585.4" x2="549.2" y2="593.7" stroke="#333" stroke-width="0.7"/>
<line x1="538" y1="589.55" x2="550" y2="589.55" stroke="#333" stroke-width="0.8"/>
<line x1="557" y1="585.4" x2="557" y2="593.7" stroke="#333" stroke-width="0.7"/>
<line x1="558.6" y1="585.4" x2="558.6" y2="593.7" stroke="#333" stroke-width="0.7"/>
<line x1="560.2" y1="585.4" x2="560.2" y2="593.7" stroke="#333" stroke-width="0.7"/>
<line x1="561.8" y1="585.4" x2="561.8" y2="593.7" stroke="#333" stroke-width="0.7"/>
<line x1="563.4" y1="585.4" x2="563.4" y2="593.7" stroke="#333" stroke-width="0.7"/>
<line x1="565" y1="585.4" x2="565" y2="593.7" stroke="#333" stroke-width="0.7"/>
<line x1="566.6" y1="585.4" x2="566.6" y2="593.7" stroke="#333" stroke-width="0.7"/>
<line x1="568.2" y1="585.4" x2="568.2" y2="593.7" stroke="#333" stroke-width="0.7"/>
<line x1="569.8" y1="585.4" x2="569.8" y2="593.7" stroke="#333" stroke-width="0.7"/>
<line x1="571.4" y1="585.4" x2="571.4" y2="593.7" stroke="#333" stroke-width="0.7"/>
<line x1="573" y1="585.4" x2="573" y2="593.7" stroke="#333" stroke-width="0.7"/>
<line x1="574.6" y1="585.4" x2="574.6" y2="593.7" stroke="#333" stroke-width="0.7"/>
<line x1="576.2" y1="585.4" x2="576.2" y2="593.7" stroke="#333" stroke-width="0.7"/>
<line x1="577.8" y1="585.4" x2="577.8" y2="593.7" stroke="#333" stroke-width="0.7"/>
<line x1="579.4" y1="585.4" x2="579.4" y2="593.7" stroke="#333" stroke-width="0.7"/>
<line x1="581" y1="585.4" x2="581" y2="593.7" stroke="#333" stroke-width="0.7"/>
<line x1="582.6" y1="585.4" x2="582.6" y2="593.7" stroke="#333" stroke-width="0.7"/>
<line x1="584.2" y1="585.4" x2="584.2" y2="593.7" stroke="#333" stroke-width="0.7"/>
<line x1="557" y1="589.55" x2="585" y2="589.55" stroke="#333" stroke-width="0.8"/>
<rect x="556" y="580.5" width="18" height="3" fill="#b7afac" stroke="#444" stroke-width="0.5"/>
<path d="M486,597 Q486,582.5 503,582 L503,597 M524,597 Q524,582.5 507,582 L507,597" fill="none" stroke="#333" stroke-width="0.8"/>
<rect x="413.75" y="597" width="22.5" height="18.3" fill="#fff" stroke="#4a4a4a" stroke-width="0.7"/>
<path d="M415,615.3 L436.25,615.3 L436.25,620.34 L415,620.34 Z" fill="#e3e3e3" stroke="#555" stroke-width="0.5"/>
<path d="M415,620.34 L436.25,620.34 L436.25,625.38 L415,625.38 Z" fill="#d4d4d4" stroke="#555" stroke-width="0.5"/>
<path d="M415,625.38 L436.25,625.38 L436.25,630.41 L415,630.41 Z" fill="#c5c5c5" stroke="#555" stroke-width="0.5"/>
<path d="M415,630.41 L436.25,630.41 L436.25,635.45 L415,635.45 Z" fill="#b6b6b6" stroke="#555" stroke-width="0.5"/>
<path d="M415,635.45 L436.25,635.45 L436.25,640.49 L415,640.49 Z" fill="#a7a7a7" stroke="#555" stroke-width="0.5"/>
<path d="M415,640.49 L436.25,640.49 L436.25,645.52 L415,645.52 Z" fill="#989898" stroke="#555" stroke-width="0.5"/>
<path d="M415,645.52 L436.25,645.52 L436.25,650.56 L415,650.56 Z" fill="#898989" stroke="#555" stroke-width="0.5"/>
<path d="M415,650.56 L436.25,650.56 L436.25,655.6 L415,655.6 Z" fill="#7a7a7a" stroke="#555" stroke-width="0.5"/>
<line x1="413.75" y1="597" x2="413.75" y2="689.5" stroke="#fff" stroke-width="1.6"/><line x1="412.8" y1="597" x2="412.8" y2="689.5" stroke="#4a4a4a" stroke-width="0.6"/>
<path d="M526.3,597 L593.7,597 L593.7,672 L536,672 L526.3,664 Z" fill="url(#pls)" stroke="#4a4a4a" stroke-width="0.8"/>
<path d="M526.3,622 L545,622 Q545,637 526.3,637" fill="#fff" stroke="#4a4a4a" stroke-width="0.7"/>
<rect x="550" y="599.5" width="17.5" height="45" rx="3" fill="#d6f4f4" stroke="#3c9c9c" stroke-width="0.7"/>
<rect x="554.5" y="603" width="7" height="4" fill="#fff" stroke="#555" stroke-width="0.4"/>
<text x="558.2" y="658.5" font-size="11.4" font-weight="bold" text-anchor="middle" fill="#1a1a78" textLength="19.6" lengthAdjust="spacingAndGlyphs">Spa</text>
<path d="M537.5,673 L593.7,673 L593.7,696 L572,696 L572,699.5 L540,699.5 Q537.5,699.5 537.5,696 Z" fill="#fff" stroke="#444" stroke-width="0.8"/>
<path d="M538.5,673.5 L571.5,673.5 L571.5,698.5 Q545,698.5 538.5,688 Z" fill="#c8c8c8" stroke="#444" stroke-width="0.6"/>
<path d="M543,673.5 Q545,690 552,698.5" fill="none" stroke="#555" stroke-width="0.6"/>
<path d="M548,673.5 Q551,690 557,698.5" fill="none" stroke="#555" stroke-width="0.6"/>
<path d="M553,673.5 Q557,690 562,698.5" fill="none" stroke="#555" stroke-width="0.6"/>
<path d="M558,673.5 Q563,690 567,698.5" fill="none" stroke="#555" stroke-width="0.6"/>
<path d="M575,696 L593,676" stroke="#444" stroke-width="0.7"/>
<path d="M471.25,637 l12.5,12.5 l-12.5,12.5 l-12.5,-12.5 Z" fill="#b7afac" stroke="#8a7f7f" stroke-width="0.5"/>
<g transform="translate(461.95,640.2) rotate(-45)"><rect x="-5.2" y="-4.6" width="10.4" height="9.6" rx="1.2" fill="#9cfcfc" stroke="#3c9c9c" stroke-width="0.8"/><rect x="-5.6" y="-6.3" width="11.2" height="2.2" rx="0.8" fill="#9cfcfc" stroke="#3c9c9c" stroke-width="0.6"/></g>
<g transform="translate(461.95,658.8) rotate(-135)"><rect x="-5.2" y="-4.6" width="10.4" height="9.6" rx="1.2" fill="#9cfcfc" stroke="#3c9c9c" stroke-width="0.8"/><rect x="-5.6" y="-6.3" width="11.2" height="2.2" rx="0.8" fill="#9cfcfc" stroke="#3c9c9c" stroke-width="0.6"/></g>
<g transform="translate(480.55,640.2) rotate(45)"><rect x="-5.2" y="-4.6" width="10.4" height="9.6" rx="1.2" fill="#9cfcfc" stroke="#3c9c9c" stroke-width="0.8"/><rect x="-5.6" y="-6.3" width="11.2" height="2.2" rx="0.8" fill="#9cfcfc" stroke="#3c9c9c" stroke-width="0.6"/></g>
<g transform="translate(480.55,658.8) rotate(135)"><rect x="-5.2" y="-4.6" width="10.4" height="9.6" rx="1.2" fill="#9cfcfc" stroke="#3c9c9c" stroke-width="0.8"/><rect x="-5.6" y="-6.3" width="11.2" height="2.2" rx="0.8" fill="#9cfcfc" stroke="#3c9c9c" stroke-width="0.6"/></g>
<path d="M457.5,719.5 l12.5,12.5 l-12.5,12.5 l-12.5,-12.5 Z" fill="#b7afac" stroke="#8a7f7f" stroke-width="0.5"/>
<g transform="translate(448.2,722.7) rotate(-45)"><rect x="-5.2" y="-4.6" width="10.4" height="9.6" rx="1.2" fill="#9cfcfc" stroke="#3c9c9c" stroke-width="0.8"/><rect x="-5.6" y="-6.3" width="11.2" height="2.2" rx="0.8" fill="#9cfcfc" stroke="#3c9c9c" stroke-width="0.6"/></g>
<g transform="translate(448.2,741.3) rotate(-135)"><rect x="-5.2" y="-4.6" width="10.4" height="9.6" rx="1.2" fill="#9cfcfc" stroke="#3c9c9c" stroke-width="0.8"/><rect x="-5.6" y="-6.3" width="11.2" height="2.2" rx="0.8" fill="#9cfcfc" stroke="#3c9c9c" stroke-width="0.6"/></g>
<g transform="translate(466.8,722.7) rotate(45)"><rect x="-5.2" y="-4.6" width="10.4" height="9.6" rx="1.2" fill="#9cfcfc" stroke="#3c9c9c" stroke-width="0.8"/><rect x="-5.6" y="-6.3" width="11.2" height="2.2" rx="0.8" fill="#9cfcfc" stroke="#3c9c9c" stroke-width="0.6"/></g>
<g transform="translate(466.8,741.3) rotate(135)"><rect x="-5.2" y="-4.6" width="10.4" height="9.6" rx="1.2" fill="#9cfcfc" stroke="#3c9c9c" stroke-width="0.8"/><rect x="-5.6" y="-6.3" width="11.2" height="2.2" rx="0.8" fill="#9cfcfc" stroke="#3c9c9c" stroke-width="0.6"/></g>
<path d="M540.5,719.5 l12.5,12.5 l-12.5,12.5 l-12.5,-12.5 Z" fill="#b7afac" stroke="#8a7f7f" stroke-width="0.5"/>
<g transform="translate(531.2,722.7) rotate(-45)"><rect x="-5.2" y="-4.6" width="10.4" height="9.6" rx="1.2" fill="#9cfcfc" stroke="#3c9c9c" stroke-width="0.8"/><rect x="-5.6" y="-6.3" width="11.2" height="2.2" rx="0.8" fill="#9cfcfc" stroke="#3c9c9c" stroke-width="0.6"/></g>
<g transform="translate(531.2,741.3) rotate(-135)"><rect x="-5.2" y="-4.6" width="10.4" height="9.6" rx="1.2" fill="#9cfcfc" stroke="#3c9c9c" stroke-width="0.8"/><rect x="-5.6" y="-6.3" width="11.2" height="2.2" rx="0.8" fill="#9cfcfc" stroke="#3c9c9c" stroke-width="0.6"/></g>
<g transform="translate(549.8,722.7) rotate(45)"><rect x="-5.2" y="-4.6" width="10.4" height="9.6" rx="1.2" fill="#9cfcfc" stroke="#3c9c9c" stroke-width="0.8"/><rect x="-5.6" y="-6.3" width="11.2" height="2.2" rx="0.8" fill="#9cfcfc" stroke="#3c9c9c" stroke-width="0.6"/></g>
<g transform="translate(549.8,741.3) rotate(135)"><rect x="-5.2" y="-4.6" width="10.4" height="9.6" rx="1.2" fill="#9cfcfc" stroke="#3c9c9c" stroke-width="0.8"/><rect x="-5.6" y="-6.3" width="11.2" height="2.2" rx="0.8" fill="#9cfcfc" stroke="#3c9c9c" stroke-width="0.6"/></g>
<g transform="translate(321,0)">
<path d="M76.8,740 L76.8,754 Q76.8,766 88.8,770.2 Q183.65,789 278.5,770.2 Q290.5,766 290.5,754 L290.5,740" fill="none" stroke="#4a4a4a" stroke-width="0.8"/>
<path d="M77,788 L77.5,808 L84,811 L84,790 M286.6,784 L285.5,808 L279,812 L279,786" fill="none" stroke="#4a4a4a" stroke-width="0.8"/>
<path d="M80,802 L79.8,811.5 L82.8,817.2 L84.6,823.2 L88.2,829.2 L94.4,831.5 L105.4,833.5 Q181,841 257,833.5 L268,831.5 L274.2,829.2 L277.8,823.2 L279.6,817.2 L282.8,811.5 L283,802 Q183,814 80,802 Z" fill="url(#pvl)" stroke="none"/>
<path d="M82,800 Q183,812 285,800" fill="none" stroke="#4a4a4a" stroke-width="0.8"/>
<path d="M103,777 L103,796 Q183,806 261,796 L261,777" fill="#fff" stroke="#4a4a4a" stroke-width="0.8"/>
<path d="M106,778 L106,793 Q183,803 258,793 L258,778" fill="none" stroke="#4a4a4a" stroke-width="0.6"/>
<path d="M103,777 L261,777" fill="none" stroke="#4a4a4a" stroke-width="0.6"/>
<path d="M82.5,785 L103,785 L103,790 L82.5,790 Z" fill="#828282" stroke="#555" stroke-width="0.5"/>
<path d="M82.5,790 L103,790 L103,795 L82.5,795 Z" fill="#a0a0a0" stroke="#555" stroke-width="0.5"/>
<path d="M82.5,795 L103,795 L103,800 L82.5,800 Z" fill="#bebebe" stroke="#555" stroke-width="0.5"/>
<path d="M82.5,800 L103,800 L103,805 L82.5,805 Z" fill="#dcdcdc" stroke="#555" stroke-width="0.5"/>
<path d="M261,785 L280.3,785 L280.3,790 L261,790 Z" fill="#828282" stroke="#555" stroke-width="0.5"/>
<path d="M261,790 L280.3,790 L280.3,795 L261,795 Z" fill="#a0a0a0" stroke="#555" stroke-width="0.5"/>
<path d="M261,795 L280.3,795 L280.3,800 L261,800 Z" fill="#bebebe" stroke="#555" stroke-width="0.5"/>
<path d="M261,800 L280.3,800 L280.3,805 L261,805 Z" fill="#dcdcdc" stroke="#555" stroke-width="0.5"/>
</g>
<path d="M396,740 Q396,760.5 409,762 Q505,776 597,762.5 Q609,760.5 609,740" fill="none" stroke="#4a4a4a" stroke-width="0.7"/>
<g transform="translate(618.2,0)"><g transform="translate(0,0.5)">
<g stroke="#111" stroke-width="0.7">
<rect x="176.2" y="127" width="4.6" height="6.6" rx="2" fill="#333"/>
<rect x="191.6" y="127" width="4.6" height="6.6" rx="2" fill="#333"/>
<rect x="180.2" y="128.3" width="2" height="4" fill="#777"/>
<rect x="190.2" y="128.3" width="2" height="4" fill="#777"/>
<path d="M181.9,135.5 L181.9,130 Q181.9,124.8 186.2,124.8 Q190.5,124.8 190.5,130 L190.5,135.5 Z" fill="#e8e8e8"/>
<path d="M182.2,129.5 L190.2,129.5" stroke-width="0.5"/>
<circle cx="186.2" cy="133.5" r="2.3" fill="#888"/>
<path d="M182.6,136 Q181.7,142 186.2,142.2 Q190.7,142 189.8,136 Z" fill="#fff" stroke-width="0.9"/>
</g>
<path d="M181.1,146.2 l1.5,1.6 l-1.5,1.6 l-1.5,-1.6Z M191.5,146.2 l1.5,1.6 l-1.5,1.6 l-1.5,-1.6Z" fill="#111"/>
<rect x="175" y="153" width="21.4" height="21.4" rx="1.2" fill="#fff" stroke="#111" stroke-width="1.4"/>
<path d="M176,154 L195.4,173.4 M195.4,154 L176,173.4" stroke="#333" stroke-width="0.6"/>
</g></g>
<path d="M698.5,306 C699,300.33 700.35,283.23 701.5,272 C702.65,260.77 701.98,248.27 705.4,238.6 C708.82,228.93 713.73,220.85 722,214 C730.27,207.15 741.75,201.47 755,197.5 C768.25,193.53 785.9,190.2 801.5,190.2 C817.1,190.2 835.25,193.53 848.6,197.5 C861.95,201.47 873.33,207.15 881.6,214 C889.87,220.85 894.78,228.93 898.2,238.6 C901.62,248.27 900.95,260.77 902.1,272 C903.25,283.23 904.6,300.33 905.1,306" fill="none" stroke="#4a4a4a" stroke-width="0.8"/>
<path d="M701.5,306 C702,300.33 703.33,283 704.5,272 C705.67,261 705.08,249.25 708.5,240 C711.92,230.75 716.92,223.08 725,216.5 C733.08,209.92 744.25,204.43 757,200.5 C769.75,196.57 786.57,192.9 801.5,192.9 C816.43,192.9 833.75,196.57 846.6,200.5 C859.45,204.43 870.52,209.92 878.6,216.5 C886.68,223.08 891.68,230.75 895.1,240 C898.52,249.25 897.93,261 899.1,272 C900.27,283 901.6,300.33 902.1,306" fill="none" stroke="#4a4a4a" stroke-width="0.8"/>
<path d="M698.5,306 L697.5,373 M905.1,306 L906.1,373 M701.5,306 L700.8,373 M902.1,306 L902.8,373" stroke="#4a4a4a" stroke-width="0.7"/>
<path d="M726.9,216.1 C723.83,220.08 712.73,232.35 708.5,240 C704.27,247.65 703.58,253.67 701.5,262 C699.42,270.33 697.33,278.67 696,290 C694.67,301.33 694.08,315.9 693.5,330 C692.92,344.1 692.67,367.17 692.5,374.6 L911.8,374.6 C911.5,367.17 910.72,344.1 910,330 C909.28,315.9 908.83,301.33 907.5,290 C906.17,278.67 903.83,269.45 902,262 C900.17,254.55 897.42,248.08 896.5,245.3 L880.2,245.3 L880.2,216.1 Z" fill="url(#pl)" stroke="none"/>
<path d="M706.4,373 L706.4,250 Q712,225 726.9,216.1 L880.2,216.1 L880.2,245.3 L899.5,245.3 L898.5,373 L895.5,373 L895.5,546 L708.5,546 L708.5,373 Z" fill="url(#pl)" stroke="#4a4a4a" stroke-width="0.8"/>
<path d="M726.9,216.1 L880.2,216.1 L880.2,245.3 L899.5,245.3" fill="none" stroke="#4a4a4a" stroke-width="0.8"/>
<rect x="706.4" y="216.1" width="20.5" height="8" fill="none" stroke="none"/>
<rect x="720.9" y="225.8" width="15.8" height="15" fill="#b7afac" stroke="#4a4a4a" stroke-width="1.6"/>
<rect x="855.7" y="226.7" width="15.8" height="15" fill="#b7afac" stroke="#4a4a4a" stroke-width="1.6"/>
<rect x="742.1" y="220" width="24.4" height="27.4" fill="#9cfcfc" stroke="#3c9c9c" stroke-width="0.7"/><path d="M746.6,246.4 L746.6,226 L762,226 L762,246.4 L746.6,246.4 L746.6,246.4" fill="none" stroke="#3c9c9c" stroke-width="0.6"/><line x1="746.6" y1="226" x2="762" y2="226" stroke="#3c9c9c" stroke-width="0.6"/>
<rect x="826.1" y="220" width="24.2" height="27.4" fill="#9cfcfc" stroke="#3c9c9c" stroke-width="0.7"/><path d="M830.6,246.4 L830.6,226 L845.8,226 L845.8,246.4 L830.6,246.4 L830.6,246.4" fill="none" stroke="#3c9c9c" stroke-width="0.6"/><line x1="830.6" y1="226" x2="845.8" y2="226" stroke="#3c9c9c" stroke-width="0.6"/>
<path d="M787.4,271.8 L787.4,237 Q787.4,234 790,234 L790,216.1 L809,216.1 Q815.5,216.1 815.5,224 L815.5,271.8" fill="#fff" stroke="#444" stroke-width="0.8"/>
<path d="M792,216.5 L792,234 L813,219" fill="none" stroke="#444" stroke-width="0.6"/>
<rect x="815.5" y="216.1" width="3.2" height="55.7" fill="#fff" stroke="#444" stroke-width="0.6"/>
<path d="M789.5,236 L813.5,236 L813.5,263 Q813.5,266 810,266 L792.5,266 Q789.5,266 789.5,263 Z" fill="#c8c8c8" stroke="#444" stroke-width="0.8"/>
<line x1="790" y1="239.5" x2="813" y2="239.5" stroke="#555" stroke-width="0.6"/>
<line x1="790" y1="243.3" x2="813" y2="243.3" stroke="#555" stroke-width="0.6"/>
<line x1="790" y1="247.1" x2="813" y2="247.1" stroke="#555" stroke-width="0.6"/>
<line x1="790" y1="250.9" x2="813" y2="250.9" stroke="#555" stroke-width="0.6"/>
<line x1="790" y1="254.7" x2="813" y2="254.7" stroke="#555" stroke-width="0.6"/>
<line x1="790" y1="258.5" x2="813" y2="258.5" stroke="#555" stroke-width="0.6"/>
<line x1="790" y1="262.3" x2="813" y2="262.3" stroke="#555" stroke-width="0.6"/>
<rect x="794.3" y="268.8" width="18.5" height="3" fill="#ccc" stroke="#555" stroke-width="0.5"/>
<path d="M707.3,247.4 L737.6,247.4 L737.6,339 L766.5,339 L766.5,365.4 L707.3,365.4 Z" fill="#9cfcfc" stroke="#3c9c9c" stroke-width="0.8"/>
<path d="M715.8,365 L715.8,255.2 L737.6,255.2 M715.8,358 L737.6,358 L737.6,339 M737.6,300 L715.8,300" fill="none" stroke="#3c9c9c" stroke-width="0.7"/>
<path d="M897.2,248.8 L869.5,248.8 L869.5,340 L839.8,340 L839.8,366.4 L897.2,366.4 Z" fill="#9cfcfc" stroke="#3c9c9c" stroke-width="0.8"/>
<path d="M890.5,366 L890.5,256.5 L869.5,256.5 M890.5,359 L869.5,359 L869.5,340 M869.5,301 L890.5,301" fill="none" stroke="#3c9c9c" stroke-width="0.7"/>
<rect x="746" y="277.6" width="20" height="43.8" fill="#b7afac" stroke="#777" stroke-width="0.7"/>
<rect x="839.7" y="279" width="20" height="44.3" fill="#b7afac" stroke="#777" stroke-width="0.7"/>
<text x="804.8" y="315.6" font-size="10.8" font-weight="bold" text-anchor="middle" fill="#1a1a78" textLength="35.5" lengthAdjust="spacingAndGlyphs">Saloon</text>
<path d="M692.19,373 L691.03,400 L690.52,450 L690,500 L690.3,546 L707,546 L707,373 Z" fill="url(#pd)" stroke="none"/>
<path d="M913.26,373 L914.03,400 L913.82,450 L913.6,500 L912.6,546 L896.2,546 L896.2,373 Z" fill="url(#pd)" stroke="none"/>
<path d="M697.6,373.2 L715.2,373.2 L714.54,377.6 L696.95,377.6 Z" fill="#e6e6e6" stroke="#555" stroke-width="0.5"/>
<path d="M696.95,377.6 L714.54,377.6 L713.88,382 L696.3,382 Z" fill="#dcdcdc" stroke="#555" stroke-width="0.5"/>
<path d="M696.3,382 L713.88,382 L713.23,386.4 L695.65,386.4 Z" fill="#d2d2d2" stroke="#555" stroke-width="0.5"/>
<path d="M695.65,386.4 L713.23,386.4 L712.57,390.8 L695,390.8 Z" fill="#c8c8c8" stroke="#555" stroke-width="0.5"/>
<path d="M695,390.8 L712.57,390.8 L711.91,395.2 L694.35,395.2 Z" fill="#bebebe" stroke="#555" stroke-width="0.5"/>
<path d="M694.35,395.2 L711.91,395.2 L711.25,399.6 L693.7,399.6 Z" fill="#b4b4b4" stroke="#555" stroke-width="0.5"/>
<path d="M693.7,399.6 L711.25,399.6 L710.59,404 L693.05,404 Z" fill="#aaaaaa" stroke="#555" stroke-width="0.5"/>
<path d="M693.05,404 L710.59,404 L709.93,408.4 L692.4,408.4 Z" fill="#a0a0a0" stroke="#555" stroke-width="0.5"/>
<path d="M692.4,408.4 L709.93,408.4 L709.27,412.8 L691.75,412.8 Z" fill="#969696" stroke="#555" stroke-width="0.5"/>
<path d="M691.75,412.8 L709.27,412.8 L708.62,417.2 L691.1,417.2 Z" fill="#8c8c8c" stroke="#555" stroke-width="0.5"/>
<path d="M691.1,417.2 L708.62,417.2 L707.96,421.6 L690.45,421.6 Z" fill="#828282" stroke="#555" stroke-width="0.5"/>
<path d="M690.45,421.6 L707.96,421.6 L707.3,426 L689.8,426 Z" fill="#787878" stroke="#555" stroke-width="0.5"/>
<path d="M891,376 L909.5,376 L909.91,380.17 L891.42,380.17 Z" fill="#e6e6e6" stroke="#555" stroke-width="0.5"/>
<path d="M891.42,380.17 L909.91,380.17 L910.32,384.33 L891.83,384.33 Z" fill="#dcdcdc" stroke="#555" stroke-width="0.5"/>
<path d="M891.83,384.33 L910.32,384.33 L910.73,388.5 L892.25,388.5 Z" fill="#d2d2d2" stroke="#555" stroke-width="0.5"/>
<path d="M892.25,388.5 L910.73,388.5 L911.13,392.67 L892.67,392.67 Z" fill="#c8c8c8" stroke="#555" stroke-width="0.5"/>
<path d="M892.67,392.67 L911.13,392.67 L911.54,396.83 L893.08,396.83 Z" fill="#bebebe" stroke="#555" stroke-width="0.5"/>
<path d="M893.08,396.83 L911.54,396.83 L911.95,401 L893.5,401 Z" fill="#b4b4b4" stroke="#555" stroke-width="0.5"/>
<path d="M893.5,401 L911.95,401 L912.36,405.17 L893.92,405.17 Z" fill="#aaaaaa" stroke="#555" stroke-width="0.5"/>
<path d="M893.92,405.17 L912.36,405.17 L912.77,409.33 L894.33,409.33 Z" fill="#a0a0a0" stroke="#555" stroke-width="0.5"/>
<path d="M894.33,409.33 L912.77,409.33 L913.17,413.5 L894.75,413.5 Z" fill="#969696" stroke="#555" stroke-width="0.5"/>
<path d="M894.75,413.5 L913.17,413.5 L913.58,417.67 L895.17,417.67 Z" fill="#8c8c8c" stroke="#555" stroke-width="0.5"/>
<path d="M895.17,417.67 L913.58,417.67 L913.99,421.83 L895.58,421.83 Z" fill="#828282" stroke="#555" stroke-width="0.5"/>
<path d="M895.58,421.83 L913.99,421.83 L914.4,426 L896,426 Z" fill="#787878" stroke="#555" stroke-width="0.5"/>
<path d="M708.5,373 L708.5,546 M895.5,373 L895.5,546" stroke="#333" stroke-width="1"/>
<rect x="739.35" y="381.6" width="12.5" height="5.5" rx="1.5" fill="#9cfcfc" stroke="#3c9c9c" stroke-width="0.7" transform="rotate(-8 745.6 384.3)"/>
<rect x="739.35" y="415" width="12.5" height="5.5" rx="1.5" fill="#9cfcfc" stroke="#3c9c9c" stroke-width="0.7" transform="rotate(8 745.6 417.8)"/>
<rect x="762.15" y="381.6" width="12.5" height="5.5" rx="1.5" fill="#9cfcfc" stroke="#3c9c9c" stroke-width="0.7" transform="rotate(0 768.4 384.3)"/>
<rect x="762.15" y="415" width="12.5" height="5.5" rx="1.5" fill="#9cfcfc" stroke="#3c9c9c" stroke-width="0.7" transform="rotate(0 768.4 417.8)"/>
<rect x="784.95" y="381.6" width="12.5" height="5.5" rx="1.5" fill="#9cfcfc" stroke="#3c9c9c" stroke-width="0.7" transform="rotate(8 791.2 384.3)"/>
<rect x="784.95" y="415" width="12.5" height="5.5" rx="1.5" fill="#9cfcfc" stroke="#3c9c9c" stroke-width="0.7" transform="rotate(-8 791.2 417.8)"/>
<rect x="733.6" y="394.55" width="5.5" height="13" rx="1.5" fill="#9cfcfc" stroke="#3c9c9c" stroke-width="0.7"/>
<rect x="797.7" y="394.55" width="5.5" height="13" rx="1.5" fill="#9cfcfc" stroke="#3c9c9c" stroke-width="0.7"/>
<path d="M746.6,386.9 L790.2,386.9 Q798.2,387.9 798.2,398.05 L798.2,404.05 Q798.2,414.2 790.2,415.2 L746.6,415.2 Q738.6,414.2 738.6,404.05 L738.6,398.05 Q738.6,387.9 746.6,386.9 Z" fill="#b7afac" stroke="#7d7270" stroke-width="1.3"/>
<path d="M761.4,401.05 L768.4,398.05 L775.4,401.05 L768.4,404.05 Z M740.6,401.05 L761.4,401.05 M775.4,401.05 L796.2,401.05 M768.4,387.9 L768.4,398.05 M768.4,404.05 L768.4,414.2" fill="none" stroke="#7d7270" stroke-width="0.6"/>
<g transform="rotate(90 845.55 452.2)"><rect x="818" y="432.75" width="12.5" height="5.5" rx="1.5" fill="#9cfcfc" stroke="#3c9c9c" stroke-width="0.7" transform="rotate(-8 824.25 435.45)"/>
<rect x="818" y="466.15" width="12.5" height="5.5" rx="1.5" fill="#9cfcfc" stroke="#3c9c9c" stroke-width="0.7" transform="rotate(8 824.25 468.95)"/>
<rect x="839.3" y="432.75" width="12.5" height="5.5" rx="1.5" fill="#9cfcfc" stroke="#3c9c9c" stroke-width="0.7" transform="rotate(0 845.55 435.45)"/>
<rect x="839.3" y="466.15" width="12.5" height="5.5" rx="1.5" fill="#9cfcfc" stroke="#3c9c9c" stroke-width="0.7" transform="rotate(0 845.55 468.95)"/>
<rect x="860.6" y="432.75" width="12.5" height="5.5" rx="1.5" fill="#9cfcfc" stroke="#3c9c9c" stroke-width="0.7" transform="rotate(8 866.85 435.45)"/>
<rect x="860.6" y="466.15" width="12.5" height="5.5" rx="1.5" fill="#9cfcfc" stroke="#3c9c9c" stroke-width="0.7" transform="rotate(-8 866.85 468.95)"/>
<rect x="812.25" y="445.7" width="5.5" height="13" rx="1.5" fill="#9cfcfc" stroke="#3c9c9c" stroke-width="0.7"/>
<rect x="873.35" y="445.7" width="5.5" height="13" rx="1.5" fill="#9cfcfc" stroke="#3c9c9c" stroke-width="0.7"/>
<path d="M825.25,438.05 L865.85,438.05 Q873.85,439.05 873.85,449.2 L873.85,455.2 Q873.85,465.35 865.85,466.35 L825.25,466.35 Q817.25,465.35 817.25,455.2 L817.25,449.2 Q817.25,439.05 825.25,438.05 Z" fill="#b7afac" stroke="#7d7270" stroke-width="1.3"/>
<path d="M838.55,452.2 L845.55,449.2 L852.55,452.2 L845.55,455.2 Z M819.25,452.2 L838.55,452.2 M852.55,452.2 L871.85,452.2 M845.55,439.05 L845.55,449.2 M845.55,455.2 L845.55,465.35" fill="none" stroke="#7d7270" stroke-width="0.6"/></g>
<text x="782.9" y="441.2" font-size="10.8" font-weight="bold" text-anchor="middle" fill="#1a1a78" textLength="57.6" lengthAdjust="spacingAndGlyphs">Dining area</text>
<circle cx="731.8" cy="459.1" r="4.3" fill="#9cfcfc" stroke="#8cc" stroke-width="0.5"/>
<circle cx="754.2" cy="453.2" r="4.3" fill="#9cfcfc" stroke="#8cc" stroke-width="0.5"/>
<circle cx="775.3" cy="462.6" r="4.3" fill="#9cfcfc" stroke="#8cc" stroke-width="0.5"/>
<circle cx="787.8" cy="478" r="4.3" fill="#9cfcfc" stroke="#8cc" stroke-width="0.5"/>
<path d="M855.8,379 L888,379 L888,393.75 L870.4,393.75 L870.4,409.4 L855.8,409.4 Z" fill="#fff" stroke="#444" stroke-width="0.8"/>
<path d="M857,395 L863,408 L869,395" fill="none" stroke="#444" stroke-width="0.7"/>
<path d="M887.2,393.9 L887.2,440 L897.2,445 L897.2,430.5" fill="#fff" stroke="#555" stroke-width="0.7"/>
<rect x="709" y="374.6" width="6.6" height="54.8" fill="#fff" stroke="#555" stroke-width="0.6"/>
<path d="M708.3,432 L695,432 Q695.5,444 708.3,444.6 M708.3,457.4 L695,457.4 Q695.5,445.5 708.3,444.6" fill="none" stroke="#333" stroke-width="0.8"/>
<path d="M896.5,443.8 Q907.5,449 906.8,455.6 Q901,457.8 896.5,456 M896.5,470.4 Q893,462 896.5,456" fill="none" stroke="#333" stroke-width="0.8"/>
<path d="M708.5,431.7 L708.5,457.1 M895.5,441.5 L895.5,466.9" stroke="#fff" stroke-width="1.5"/>
<path d="M709.3,461 L725.9,472.7 L752.3,463.4 L786.4,494.2 L786.4,523.5 L773.8,523.5 L773.8,497.1 L752.5,478.2 L722,489.3 L709.3,478 Z" fill="#b7afac" stroke="#999" stroke-width="0.6"/>
<rect x="708.5" y="493.2" width="12.5" height="13" fill="#fff" stroke="#444" stroke-width="0.6"/><path d="M709,493.7 L720.5,505.7 M720.5,493.7 L709,505.7" stroke="#444" stroke-width="0.5"/>
<rect x="708.5" y="506.2" width="12.5" height="13.4" fill="#fff" stroke="#444" stroke-width="0.6"/><rect x="711" y="508.5" width="7.5" height="8.5" rx="1.5" fill="none" stroke="#444" stroke-width="0.5"/>
<rect x="708.5" y="519.6" width="31" height="5" fill="#fff" stroke="#444" stroke-width="0.6"/>
<text x="747.2" y="507" font-size="10.8" font-weight="bold" text-anchor="middle" fill="#1a1a78" textLength="18" lengthAdjust="spacingAndGlyphs">Bar</text>
<rect x="794.3" y="511.8" width="13.7" height="13.7" rx="1.2" fill="none" stroke="#999" stroke-width="0.7"/>
<rect x="708.5" y="525.5" width="77.9" height="20.5" fill="#fff" stroke="#333" stroke-width="0.9"/>
<text x="749.3" y="539.3" font-size="10.8" font-weight="bold" text-anchor="middle" fill="#1a1a78" textLength="27.2" lengthAdjust="spacingAndGlyphs">Store</text>
<path d="M786,527 Q769,528 768,546 L786,546" fill="none" stroke="#333" stroke-width="0.7"/>
<path d="M849.9,505.9 L879.2,480.5 L894.8,480.5 L894.8,525.5 L849.9,525.5 Z" fill="#c9e2fa" stroke="#444" stroke-width="0.8"/>
<path d="M888,470 L895,470 L895,480 L879,480 Z" fill="#fff" stroke="#444" stroke-width="0.5"/>
<g transform="rotate(-30 881 495)"><rect x="876" y="488" width="10" height="13" rx="2" fill="#fff" stroke="#333" stroke-width="0.7"/><rect x="878" y="491" width="6" height="7" rx="1.5" fill="none" stroke="#333" stroke-width="0.5"/></g>
<path d="M850,508 Q866,510 868,524" fill="none" stroke="#333" stroke-width="0.7"/>
<circle cx="886.7" cy="518.8" r="4.2" fill="none" stroke="#222" stroke-width="0.8"/><circle cx="886.7" cy="518.8" r="0.8" fill="#222"/>
<path d="M690.4,546 L691.02,600 L691.65,640 L692.63,660 L694.8,700 L696.65,740 L698.61,786 L900.29,786 L903.05,740 L905.6,700 L908.43,660 L909.75,640 L911.02,600 L912.5,546 Z" fill="url(#pd)" stroke="none"/>
<rect x="708.5" y="546" width="76.5" height="103.5" fill="url(#pl)" stroke="#333" stroke-width="0.9"/>
<rect x="708.8" y="549" width="14.7" height="10.5" fill="#b7afac" stroke="#888" stroke-width="0.5"/>
<rect x="708.8" y="559.5" width="14.7" height="10.5" fill="#b7afac" stroke="#888" stroke-width="0.5"/>
<rect x="708.8" y="570" width="14.7" height="10.5" fill="#b7afac" stroke="#888" stroke-width="0.5"/>
<rect x="708.8" y="580.5" width="14.7" height="10.5" fill="#b7afac" stroke="#888" stroke-width="0.5"/>
<rect x="708.8" y="591" width="14.7" height="10.5" fill="#b7afac" stroke="#888" stroke-width="0.5"/>
<rect x="708.8" y="601.5" width="14.7" height="10.5" fill="#b7afac" stroke="#888" stroke-width="0.5"/>
<rect x="731" y="548.5" width="28" height="19.5" fill="#fff" stroke="#555" stroke-width="0.6"/><rect x="733" y="550" width="22" height="16" fill="#e8e8e8" stroke="#333" stroke-width="0.6"/>
<circle cx="738" cy="554.5" r="2.2" fill="#fff" stroke="#333" stroke-width="0.5"/>
<circle cx="744.5" cy="554.5" r="2.2" fill="#fff" stroke="#333" stroke-width="0.5"/>
<circle cx="751" cy="554.5" r="2.2" fill="#fff" stroke="#333" stroke-width="0.5"/>
<circle cx="738" cy="561" r="2.2" fill="#fff" stroke="#333" stroke-width="0.5"/>
<circle cx="744.5" cy="561" r="2.2" fill="#fff" stroke="#333" stroke-width="0.5"/>
<circle cx="751" cy="561" r="2.2" fill="#fff" stroke="#333" stroke-width="0.5"/>
<rect x="768.5" y="548" width="16" height="16" fill="#fff" stroke="#444" stroke-width="0.6"/><path d="M769,548.5 L784,563.5 M784,548.5 L769,563.5" stroke="#444" stroke-width="0.5"/>
<rect x="768.5" y="564" width="14" height="14.5" fill="#fff" stroke="#555" stroke-width="0.5"/>
<rect x="768.5" y="578.5" width="14" height="14.5" fill="#fff" stroke="#555" stroke-width="0.5"/>
<rect x="768.5" y="593" width="14" height="14.5" fill="#fff" stroke="#555" stroke-width="0.5"/>
<rect x="770.5" y="607" width="9.5" height="14" fill="#fff" stroke="#333" stroke-width="0.5"/>
<rect x="786" y="557" width="11.5" height="63" fill="#b7afac" stroke="#888" stroke-width="0.5"/>
<text x="746.6" y="605.4" font-size="10.4" font-weight="bold" text-anchor="middle" fill="#1a1a78" textLength="38.3" lengthAdjust="spacingAndGlyphs">Kitchen</text>
<rect x="727.5" y="638" width="30" height="10" fill="#fff" stroke="#aaa" stroke-width="0.5"/>
<path d="M708.5,622 Q695,625 694,640 M785,629 Q790,640 797,648 L785,648" fill="none" stroke="#333" stroke-width="0.7"/>
<rect x="708.5" y="649.5" width="76.5" height="46.3" fill="#fff" stroke="#333" stroke-width="0.9"/>
<rect x="711.5" y="651.5" width="70.5" height="42.3" fill="none" stroke="#555" stroke-width="0.6"/>
<path d="M782,650 Q765,652 764,669 L782,669" fill="none" stroke="#333" stroke-width="0.7"/>
<text x="745.6" y="676.7" font-size="10.8" font-weight="bold" text-anchor="middle" fill="#1a1a78" textLength="54.7" lengthAdjust="spacingAndGlyphs">Food store</text>
<rect x="711" y="696" width="44" height="12" fill="#fff" stroke="#aaa" stroke-width="0.6"/>
<path d="M709.5,696 L709.5,714.5 M890,673 L890,716" stroke="#555" stroke-width="1.6"/><path d="M709.5,696 L709.5,714.5 M890,673 L890,716" stroke="#fff" stroke-width="0.6"/>
<rect x="838.5" y="526.3" width="56" height="101.2" fill="url(#pl)" stroke="#333" stroke-width="0.9"/>
<rect x="840.5" y="618" width="31.5" height="8.3" fill="#b7afac" stroke="#777" stroke-width="0.5"/>
<rect x="840" y="528.5" width="17.5" height="13.5" fill="#b7afac" stroke="#444" stroke-width="0.7"/>
<line x1="842" y1="531" x2="842" y2="539.5" stroke="#333" stroke-width="0.7"/>
<line x1="843.6" y1="531" x2="843.6" y2="539.5" stroke="#333" stroke-width="0.7"/>
<line x1="845.2" y1="531" x2="845.2" y2="539.5" stroke="#333" stroke-width="0.7"/>
<line x1="846.8" y1="531" x2="846.8" y2="539.5" stroke="#333" stroke-width="0.7"/>
<line x1="848.4" y1="531" x2="848.4" y2="539.5" stroke="#333" stroke-width="0.7"/>
<line x1="850" y1="531" x2="850" y2="539.5" stroke="#333" stroke-width="0.7"/>
<line x1="851.6" y1="531" x2="851.6" y2="539.5" stroke="#333" stroke-width="0.7"/>
<line x1="853.2" y1="531" x2="853.2" y2="539.5" stroke="#333" stroke-width="0.7"/>
<line x1="842" y1="535.25" x2="854" y2="535.25" stroke="#333" stroke-width="0.8"/>
<rect x="857.5" y="528.5" width="15" height="13.5" fill="#b7afac" stroke="#666" stroke-width="0.5"/>
<rect x="872.5" y="528.5" width="21.3" height="48.5" fill="#55aef6" stroke="#336" stroke-width="0.6"/>
<rect x="876.25" y="534" width="13.8" height="6.5" fill="#fff" stroke="#335" stroke-width="0.5"/>
<path d="M886.8,547 L886.8,552.5 L892.3,552.5 Z M886.3,547 L874,547 L874,550.2 L886.3,550.2 Z" fill="#fff" stroke="#335" stroke-width="0.4"/>
<rect x="872.1" y="577.9" width="22.1" height="48.4" fill="#c9e2fa" stroke="#444" stroke-width="0.7"/>
<rect x="876" y="580" width="14" height="7" fill="#fff" stroke="#444" stroke-width="0.5"/><path d="M876,580 L890,587 M890,580 L876,587" stroke="#444" stroke-width="0.5"/>
<circle cx="885" cy="602.6" r="3.6" fill="none" stroke="#222" stroke-width="0.8"/><circle cx="885" cy="602.6" r="0.8" fill="#222"/>
<rect x="875.5" y="616" width="17" height="8.5" rx="2" fill="#fff" stroke="#333" stroke-width="0.6"/>
<path d="M872.5,590 Q886,590 887.5,581" fill="none" stroke="#333" stroke-width="0.6"/>
<g transform="translate(0,1187) scale(1,-1)">
<rect x="840" y="570" width="22.5" height="47" fill="#55aef6" stroke="#336" stroke-width="0.6"/>
<rect x="843.75" y="575.5" width="15" height="6.5" fill="#fff" stroke="#335" stroke-width="0.5"/>
<path d="M847,588.5 L847,594 L841.5,594 Z M847.5,588.5 L861,588.5 L861,591.7 L847.5,591.7 Z" fill="#fff" stroke="#335" stroke-width="0.4"/>
</g>
<g transform="rotate(180 851.25 593.5)"></g>
<path d="M839,560 Q852,560 855,572" fill="none" stroke="#333" stroke-width="0.6"/>
<text x="868.7" y="560.5" font-size="10.8" font-weight="bold" text-anchor="middle" fill="#1a1a78" textLength="23.5" lengthAdjust="spacingAndGlyphs">Twin</text>
<text x="868" y="571.5" font-size="12" font-weight="bold" text-anchor="middle" fill="#d4d4d4" stroke="#151515" stroke-width="0.65" textLength="34.5" lengthAdjust="spacingAndGlyphs">Cabin</text>
<text x="867.5" y="583.5" font-size="12" font-weight="bold" text-anchor="middle" fill="#d4d4d4" stroke="#151515" stroke-width="0.65">7</text>
<rect x="837.5" y="627.5" width="55" height="45.5" fill="#fff" stroke="#333" stroke-width="0.9"/>
<rect x="839" y="629.5" width="7.5" height="10.5" fill="#fff" stroke="#555" stroke-width="0.5"/>
<rect x="839" y="662" width="7.5" height="10" fill="#fff" stroke="#555" stroke-width="0.5"/>
<rect x="846.6" y="629.5" width="7.5" height="10.5" fill="#fff" stroke="#555" stroke-width="0.5"/>
<rect x="846.6" y="662" width="7.5" height="10" fill="#fff" stroke="#555" stroke-width="0.5"/>
<rect x="854.2" y="629.5" width="7.5" height="10.5" fill="#fff" stroke="#555" stroke-width="0.5"/>
<rect x="854.2" y="662" width="7.5" height="10" fill="#fff" stroke="#555" stroke-width="0.5"/>
<rect x="861.8" y="629.5" width="7.5" height="10.5" fill="#fff" stroke="#555" stroke-width="0.5"/>
<rect x="861.8" y="662" width="7.5" height="10" fill="#fff" stroke="#555" stroke-width="0.5"/>
<rect x="869.4" y="629.5" width="7.5" height="10.5" fill="#fff" stroke="#555" stroke-width="0.5"/>
<rect x="869.4" y="662" width="7.5" height="10" fill="#fff" stroke="#555" stroke-width="0.5"/>
<rect x="877" y="629.5" width="7.5" height="10.5" fill="#fff" stroke="#555" stroke-width="0.5"/>
<rect x="877" y="662" width="7.5" height="10" fill="#fff" stroke="#555" stroke-width="0.5"/>
<rect x="884.6" y="629.5" width="7.5" height="10.5" fill="#fff" stroke="#555" stroke-width="0.5"/>
<rect x="884.6" y="662" width="7.5" height="10" fill="#fff" stroke="#555" stroke-width="0.5"/>
<path d="M837.5,659 L851,643" stroke="#333" stroke-width="0.8"/><path d="M843,643 Q850,642 851,646" fill="none" stroke="#333" stroke-width="0.6"/>
<text x="868.5" y="654.3" font-size="10.8" font-weight="bold" text-anchor="middle" fill="#1a1a78" textLength="26" lengthAdjust="spacingAndGlyphs">Store</text>
<rect x="822.5" y="657" width="13.75" height="13.75" fill="#a0a0a0" stroke="#555" stroke-width="0.7"/>
<path d="M836,673 L895,673 L895,696 L871,696 Q860,706 845,706 Q836,704 836,690 Z" fill="#fff" stroke="#444" stroke-width="0.8"/>
<path d="M836,673 L858,673 L858,700 Q846,706 840,699 Q836,694 836,686 Z" fill="#a8a8a8" stroke="#444" stroke-width="0.6"/>
<path d="M841,673 Q845,690 842,704" fill="none" stroke="#444" stroke-width="0.6"/>
<path d="M846,673 Q851,690 848,704" fill="none" stroke="#444" stroke-width="0.6"/>
<path d="M851,673 Q857,690 854,704" fill="none" stroke="#444" stroke-width="0.6"/>
<line x1="860" y1="673" x2="860" y2="696" stroke="#666" stroke-width="0.5"/>
<line x1="864" y1="673" x2="864" y2="696" stroke="#666" stroke-width="0.5"/>
<line x1="868" y1="673" x2="868" y2="696" stroke="#666" stroke-width="0.5"/>
<line x1="872" y1="673" x2="872" y2="696" stroke="#666" stroke-width="0.5"/>
<line x1="876" y1="673" x2="876" y2="696" stroke="#666" stroke-width="0.5"/>
<line x1="880" y1="673" x2="880" y2="696" stroke="#666" stroke-width="0.5"/>
<path d="M884,676 L891,692 L897,692" fill="none" stroke="#333" stroke-width="0.7"/>
<text x="801.6" y="740.8" font-size="10.4" font-weight="bold" text-anchor="middle" fill="#1a1a78" textLength="95.2" lengthAdjust="spacingAndGlyphs">Outdoor dining area</text>
<rect x="726" y="747" width="13" height="12.5" fill="#b7afac" stroke="#888" stroke-width="0.6"/>
<rect x="862.5" y="747" width="13" height="12.5" fill="#b7afac" stroke="#888" stroke-width="0.6"/>
<path d="M697,786 L697.5,811.5 L700.7,817.2 L702.5,823.2 L706.1,829.2 L712.3,831.5 L723.3,833.5 Q799,841 875,833.5 L886,831.5 L892.2,829.2 L895.8,823.2 L897.6,817.2 L900.8,811.5 L902,786 Z" fill="url(#pd)" stroke="none"/>
<path d="M719.6,762.5 L719.6,798.8 Q800,808 879.8,798.8 L879.8,762.5 L877.6,762.5 L877.6,796.5 Q800,805.5 721.8,796.5 L721.8,762.5 Z" fill="#fff" stroke="#555" stroke-width="0.6"/>
<path d="M721.8,790 Q800,799.5 877.6,790 L877.6,796.5 Q800,805.5 721.8,796.5 Z" fill="#fff" stroke="none"/>
<path d="M724.3,766.7 L737.5,766.7 L737.5,780 Q800,784 863.5,780 L863.5,766.7 L876.8,766.7 L876.8,789.4 Q800,798 724.3,789.4 Z" fill="#9cfcfc" stroke="#3c9c9c" stroke-width="0.8"/>
<path d="M741.4,765 Q800,761.5 860.2,765 L860.2,775 Q800,781 741.4,775 Z" fill="#b7afac" stroke="#7f7575" stroke-width="0.7"/>
<g transform="rotate(-8 750.3 759)"><rect x="744.55" y="753.5" width="11.5" height="11" rx="1.5" fill="#9cfcfc" stroke="#3c9c9c" stroke-width="0.7"/><rect x="744.55" y="752.3" width="11.5" height="2.6" rx="1" fill="#9cfcfc" stroke="#3c9c9c" stroke-width="0.5"/></g>
<g transform="rotate(-2 771 759)"><rect x="765.25" y="753.5" width="11.5" height="11" rx="1.5" fill="#9cfcfc" stroke="#3c9c9c" stroke-width="0.7"/><rect x="765.25" y="752.3" width="11.5" height="2.6" rx="1" fill="#9cfcfc" stroke="#3c9c9c" stroke-width="0.5"/></g>
<g transform="rotate(0 790 759)"><rect x="784.25" y="753.5" width="11.5" height="11" rx="1.5" fill="#9cfcfc" stroke="#3c9c9c" stroke-width="0.7"/><rect x="784.25" y="752.3" width="11.5" height="2.6" rx="1" fill="#9cfcfc" stroke="#3c9c9c" stroke-width="0.5"/></g>
<g transform="rotate(0 808.75 759)"><rect x="803" y="753.5" width="11.5" height="11" rx="1.5" fill="#9cfcfc" stroke="#3c9c9c" stroke-width="0.7"/><rect x="803" y="752.3" width="11.5" height="2.6" rx="1" fill="#9cfcfc" stroke="#3c9c9c" stroke-width="0.5"/></g>
<g transform="rotate(2 828.5 759)"><rect x="822.75" y="753.5" width="11.5" height="11" rx="1.5" fill="#9cfcfc" stroke="#3c9c9c" stroke-width="0.7"/><rect x="822.75" y="752.3" width="11.5" height="2.6" rx="1" fill="#9cfcfc" stroke="#3c9c9c" stroke-width="0.5"/></g>
<g transform="rotate(8 849 759)"><rect x="843.25" y="753.5" width="11.5" height="11" rx="1.5" fill="#9cfcfc" stroke="#3c9c9c" stroke-width="0.7"/><rect x="843.25" y="752.3" width="11.5" height="2.6" rx="1" fill="#9cfcfc" stroke="#3c9c9c" stroke-width="0.5"/></g>
<path d="M693,783 L700,783 L700,811.4 L695.5,811.4 Z M907.4,783 L900.6,783 L900.6,811.4 L905,811.4 Z" fill="#fff" stroke="#444" stroke-width="0.7"/>
<path d="M700,786 L719.5,786 L719.5,790.75 L700,790.75 Z" fill="#828282" stroke="#555" stroke-width="0.5"/>
<path d="M700,790.75 L719.5,790.75 L719.5,795.5 L700,795.5 Z" fill="#a0a0a0" stroke="#555" stroke-width="0.5"/>
<path d="M700,795.5 L719.5,795.5 L719.5,800.25 L700,800.25 Z" fill="#bebebe" stroke="#555" stroke-width="0.5"/>
<path d="M700,800.25 L719.5,800.25 L719.5,805 L700,805 Z" fill="#dcdcdc" stroke="#555" stroke-width="0.5"/>
<path d="M880.5,786 L900.6,786 L900.6,790.75 L880.5,790.75 Z" fill="#828282" stroke="#555" stroke-width="0.5"/>
<path d="M880.5,790.75 L900.6,790.75 L900.6,795.5 L880.5,795.5 Z" fill="#a0a0a0" stroke="#555" stroke-width="0.5"/>
<path d="M880.5,795.5 L900.6,795.5 L900.6,800.25 L880.5,800.25 Z" fill="#bebebe" stroke="#555" stroke-width="0.5"/>
<path d="M880.5,800.25 L900.6,800.25 L900.6,805 L880.5,805 Z" fill="#dcdcdc" stroke="#555" stroke-width="0.5"/>
<path d="M1012.9,193.1 L1182.7,193.1 M1012.4,195 L1183.2,195" stroke="#4a4a4a" stroke-width="0.8"/>
<path d="M1006.94,217.3 L1069.5,217.3 M1123.5,217.3 L1188.17,217.3 M1001.83,237.1 L1067.5,237.1 M1125,237.1 L1193.03,237.1 M994.12,280.2 L1082.4,280.2 M1107.2,280.2 L1200.18,280.2 M993.68,283 L1082.4,283 M1107.2,283 L1200.58,283" stroke="#4a4a4a" stroke-width="0.8"/>
<rect x="1084.6" y="262.3" width="22.6" height="215.7" fill="url(#pl)" stroke="none"/>
<path d="M1084.6,262.3 L1084.6,213 Q1084.6,210 1090,210 L1100,210 Q1109.4,211 1109.4,218 L1109.4,262.3" fill="#f0f0f0" stroke="#444" stroke-width="0.7"/>
<path d="M1087,230 L1106,212" stroke="#444" stroke-width="0.6"/>
<rect x="1087" y="230.8" width="22" height="31.5" fill="#c0c0c0" stroke="#444" stroke-width="0.6"/>
<line x1="1087" y1="234" x2="1107.2" y2="234" stroke="#555" stroke-width="0.6"/>
<line x1="1087" y1="237.6" x2="1107.2" y2="237.6" stroke="#555" stroke-width="0.6"/>
<line x1="1087" y1="241.2" x2="1107.2" y2="241.2" stroke="#555" stroke-width="0.6"/>
<line x1="1087" y1="244.8" x2="1107.2" y2="244.8" stroke="#555" stroke-width="0.6"/>
<line x1="1087" y1="248.4" x2="1107.2" y2="248.4" stroke="#555" stroke-width="0.6"/>
<line x1="1087" y1="252" x2="1107.2" y2="252" stroke="#555" stroke-width="0.6"/>
<line x1="1087" y1="255.6" x2="1107.2" y2="255.6" stroke="#555" stroke-width="0.6"/>
<line x1="1087" y1="259.2" x2="1107.2" y2="259.2" stroke="#555" stroke-width="0.6"/>
<path d="M1066.5,280 Q1068,264 1082.4,262.3 L1082.4,280 M1127.8,280 Q1126.5,264 1109.4,262.3 L1109.4,280" fill="none" stroke="#333" stroke-width="0.7"/>
<path d="M1047,237.1 L1024.5,280.2 M1063.2,237.1 L1041.6,280.2" stroke="#222" stroke-width="1"/>
<path d="M1046,195 L1040,217.3 M1068,195 L1063,217.3" stroke="#444" stroke-width="0.7"/>
<path d="M1056,196.5 L1070,196.5 L1067.5,207 L1058.5,207 Z" fill="#fff" stroke="#333" stroke-width="0.7"/>
<rect x="1060" y="199" width="7" height="5" fill="none" stroke="#333" stroke-width="0.5"/>
<circle cx="1060.5" cy="212.5" r="3.3" fill="#fff" stroke="#222" stroke-width="0.9"/><circle cx="1060.5" cy="212.5" r="1.2" fill="none" stroke="#222" stroke-width="0.5"/>
<rect x="1044.5" y="219" width="11.5" height="16.5" fill="#fff" stroke="#444" stroke-width="0.6"/>
<line x1="1045.5" y1="220.5" x2="1055" y2="220.5" stroke="#333" stroke-width="0.7"/>
<line x1="1045.5" y1="223.1" x2="1055" y2="223.1" stroke="#333" stroke-width="0.7"/>
<line x1="1045.5" y1="225.7" x2="1055" y2="225.7" stroke="#333" stroke-width="0.7"/>
<line x1="1045.5" y1="228.3" x2="1055" y2="228.3" stroke="#333" stroke-width="0.7"/>
<line x1="1045.5" y1="230.9" x2="1055" y2="230.9" stroke="#333" stroke-width="0.7"/>
<line x1="1045.5" y1="233.5" x2="1055" y2="233.5" stroke="#333" stroke-width="0.7"/>
<rect x="1056" y="217.3" width="12" height="19.8" fill="none" stroke="#444" stroke-width="0.6"/>
<rect x="1066" y="224" width="4.5" height="7" fill="#fff" stroke="#444" stroke-width="0.6"/>
<rect x="1030" y="270" width="10" height="8.5" fill="#fff" stroke="#444" stroke-width="0.6"/>
<path d="M1033,262 L1036,266 L1040,266" fill="none" stroke="#444" stroke-width="0.5"/>
<rect x="1047" y="270" width="10" height="8.5" fill="#fff" stroke="#444" stroke-width="0.6"/>
<path d="M1050,262 L1053,266 L1057,266" fill="none" stroke="#444" stroke-width="0.5"/>
<path d="M1147.8,237.1 L1170.3,280.2 M1131.6,237.1 L1153.2,280.2" stroke="#222" stroke-width="1"/>
<path d="M1148.8,195 L1154.8,217.3 M1126.8,195 L1131.8,217.3" stroke="#444" stroke-width="0.7"/>
<path d="M1138.8,196.5 L1124.8,196.5 L1127.3,207 L1136.3,207 Z" fill="#fff" stroke="#333" stroke-width="0.7"/>
<rect x="1127.8" y="199" width="7" height="5" fill="none" stroke="#333" stroke-width="0.5"/>
<circle cx="1134.3" cy="212.5" r="3.3" fill="#fff" stroke="#222" stroke-width="0.9"/><circle cx="1134.3" cy="212.5" r="1.2" fill="none" stroke="#222" stroke-width="0.5"/>
<rect x="1138.8" y="219" width="11.5" height="16.5" fill="#fff" stroke="#444" stroke-width="0.6"/>
<line x1="1149.3" y1="220.5" x2="1139.8" y2="220.5" stroke="#333" stroke-width="0.7"/>
<line x1="1149.3" y1="223.1" x2="1139.8" y2="223.1" stroke="#333" stroke-width="0.7"/>
<line x1="1149.3" y1="225.7" x2="1139.8" y2="225.7" stroke="#333" stroke-width="0.7"/>
<line x1="1149.3" y1="228.3" x2="1139.8" y2="228.3" stroke="#333" stroke-width="0.7"/>
<line x1="1149.3" y1="230.9" x2="1139.8" y2="230.9" stroke="#333" stroke-width="0.7"/>
<line x1="1149.3" y1="233.5" x2="1139.8" y2="233.5" stroke="#333" stroke-width="0.7"/>
<rect x="1126.8" y="217.3" width="12" height="19.8" fill="none" stroke="#444" stroke-width="0.6"/>
<rect x="1124.3" y="224" width="4.5" height="7" fill="#fff" stroke="#444" stroke-width="0.6"/>
<rect x="1154.8" y="270" width="10" height="8.5" fill="#fff" stroke="#444" stroke-width="0.6"/>
<path d="M1161.8,262 L1158.8,266 L1154.8,266" fill="none" stroke="#444" stroke-width="0.5"/>
<rect x="1137.8" y="270" width="10" height="8.5" fill="#fff" stroke="#444" stroke-width="0.6"/>
<path d="M1144.8,262 L1141.8,266 L1137.8,266" fill="none" stroke="#444" stroke-width="0.5"/>
<text x="1026.2" y="251.9" font-size="11" font-weight="bold" text-anchor="middle" fill="#1a1a78" textLength="54.5" lengthAdjust="spacingAndGlyphs">Dive guide</text>
<text x="1026.4" y="263.4" font-size="11" font-weight="bold" text-anchor="middle" fill="#1a1a78" textLength="27.9" lengthAdjust="spacingAndGlyphs">cabin</text>
<text x="1169.5" y="251.9" font-size="11" font-weight="bold" text-anchor="middle" fill="#1a1a78" textLength="54.3" lengthAdjust="spacingAndGlyphs">Dive guide</text>
<text x="1169.2" y="263.4" font-size="11" font-weight="bold" text-anchor="middle" fill="#1a1a78" textLength="27.9" lengthAdjust="spacingAndGlyphs">cabin</text>
<rect x="1015.5" y="283" width="68.3" height="22.4" fill="#c9e2fa" stroke="#555" stroke-width="0.6"/>
<rect x="1107.2" y="283" width="69.2" height="22.4" fill="#c9e2fa" stroke="#555" stroke-width="0.6"/>
<rect x="1061.4" y="283.8" width="21.5" height="21.6" fill="none" stroke="#333" stroke-width="1"/><path d="M1061.4,283.8 L1082.9,305.4 M1082.9,283.8 L1061.4,305.4" stroke="#444" stroke-width="0.6"/>
<rect x="1109.4" y="283.8" width="21.6" height="21.6" fill="none" stroke="#333" stroke-width="1"/><path d="M1109.4,283.8 L1131,305.4 M1131,283.8 L1109.4,305.4" stroke="#444" stroke-width="0.6"/>
<g transform="translate(1027.5,293.5) rotate(-55) scale(1.1)"><rect x="-4.5" y="-6" width="9" height="3" fill="#e6eef8" stroke="#333" stroke-width="0.6"/><path d="M-4,-3 L-4,3 Q-4,6 0,6 Q4,6 4,3 L4,-3 Z" fill="#fff" stroke="#333" stroke-width="0.7"/><circle cx="0" cy="1.5" r="1.2" fill="none" stroke="#333" stroke-width="0.5"/></g>
<g transform="translate(1167.5,293.5) rotate(55) scale(1.1)"><rect x="-4.5" y="-6" width="9" height="3" fill="#e6eef8" stroke="#333" stroke-width="0.6"/><path d="M-4,-3 L-4,3 Q-4,6 0,6 Q4,6 4,3 L4,-3 Z" fill="#fff" stroke="#333" stroke-width="0.7"/><circle cx="0" cy="1.5" r="1.2" fill="none" stroke="#333" stroke-width="0.5"/></g>
<rect x="1044.5" y="283.5" width="10" height="9" fill="#fff" stroke="#333" stroke-width="0.7"/><circle cx="1049.5" cy="288" r="1.5" fill="none" stroke="#333" stroke-width="0.5"/>
<rect x="1140.5" y="283.5" width="10" height="9" fill="#fff" stroke="#333" stroke-width="0.7"/><circle cx="1145.5" cy="288" r="1.5" fill="none" stroke="#333" stroke-width="0.5"/>
<path d="M997.5,306 L997.5,572 M1195,306 L1195,572" stroke="#4a4a4a" stroke-width="0.7"/>
<path d="M988.59,290 L997.5,290 M1195,290 L1205.59,290" stroke="#4a4a4a" stroke-width="0.7"/>
<path d="M987.79,298 L997.5,298 M1195,298 L1206.27,298" stroke="#4a4a4a" stroke-width="0.7"/>
<path d="M987.06,305.4 L997.5,305.4 M1195,305.4 L1206.91,305.4" stroke="#4a4a4a" stroke-width="0.7"/>
<path d="M982.6,377.5 L997.5,377.5 M1195,377.5 L1210.39,377.5" stroke="#4a4a4a" stroke-width="0.7"/>
<path d="M981.14,448.5 L997.5,448.5 M1195,448.5 L1210.83,448.5" stroke="#4a4a4a" stroke-width="0.7"/>
<path d="M980.86,475.5 L997.5,475.5 M1195,475.5 L1210.71,475.5" stroke="#4a4a4a" stroke-width="0.7"/>
<path d="M980.9,546 L997.5,546 M1195,546 L1209.6,546" stroke="#4a4a4a" stroke-width="0.7"/>
<path d="M981.15,572 L997.5,572 M1195,572 L1208.94,572" stroke="#4a4a4a" stroke-width="0.7"/>
<rect x="997.5" y="305.4" width="86.3" height="72.1" fill="url(#pl)" stroke="none"/>
<rect x="1109.4" y="305.4" width="84.2" height="72.1" fill="url(#pl)" stroke="none"/>
<rect x="997.5" y="377.5" width="86.3" height="71" fill="url(#pl)" stroke="none"/>
<rect x="1109.4" y="377.5" width="84.2" height="71" fill="url(#pl)" stroke="none"/>
<rect x="997.5" y="475.5" width="99" height="70.5" fill="url(#pl)" stroke="none"/>
<rect x="1096.5" y="475.5" width="98.5" height="70.5" fill="url(#pl)" stroke="none"/>
<path d="M997.5,305.4 L1082.4,305.4 M1109.4,305.4 L1195,305.4 M997.5,377.5 L1082.4,377.5 M1109.4,377.5 L1195,377.5 M997.5,448.5 L1082.4,448.5 M1109.4,448.5 L1195,448.5 M997.5,475.5 L1082.4,475.5 M1109.4,475.5 L1195,475.5 M991,546 L1082.4,546 M1109.4,546 L1199,546 M991,572 L1199,572" stroke="#4a4a4a" stroke-width="0.8"/>
<rect x="1006.25" y="308.75" width="36.25" height="18.75" fill="#b7afac" stroke="#444" stroke-width="0.7"/>
<line x1="1016" y1="311.25" x2="1016" y2="325" stroke="#333" stroke-width="0.7"/>
<line x1="1017.6" y1="311.25" x2="1017.6" y2="325" stroke="#333" stroke-width="0.7"/>
<line x1="1019.2" y1="311.25" x2="1019.2" y2="325" stroke="#333" stroke-width="0.7"/>
<line x1="1020.8" y1="311.25" x2="1020.8" y2="325" stroke="#333" stroke-width="0.7"/>
<line x1="1022.4" y1="311.25" x2="1022.4" y2="325" stroke="#333" stroke-width="0.7"/>
<line x1="1024" y1="311.25" x2="1024" y2="325" stroke="#333" stroke-width="0.7"/>
<line x1="1025.6" y1="311.25" x2="1025.6" y2="325" stroke="#333" stroke-width="0.7"/>
<line x1="1016" y1="318.12" x2="1026" y2="318.12" stroke="#333" stroke-width="0.8"/>
<rect x="1150" y="308.75" width="37.5" height="18.75" fill="#b7afac" stroke="#444" stroke-width="0.7"/>
<line x1="1166" y1="311.25" x2="1166" y2="325" stroke="#333" stroke-width="0.7"/>
<line x1="1167.6" y1="311.25" x2="1167.6" y2="325" stroke="#333" stroke-width="0.7"/>
<line x1="1169.2" y1="311.25" x2="1169.2" y2="325" stroke="#333" stroke-width="0.7"/>
<line x1="1170.8" y1="311.25" x2="1170.8" y2="325" stroke="#333" stroke-width="0.7"/>
<line x1="1172.4" y1="311.25" x2="1172.4" y2="325" stroke="#333" stroke-width="0.7"/>
<line x1="1174" y1="311.25" x2="1174" y2="325" stroke="#333" stroke-width="0.7"/>
<line x1="1175.6" y1="311.25" x2="1175.6" y2="325" stroke="#333" stroke-width="0.7"/>
<line x1="1166" y1="318.12" x2="1176" y2="318.12" stroke="#333" stroke-width="0.8"/>
<g transform="translate(0,703.75) scale(1,-1)">
<rect x="1006.25" y="327.5" width="18.1" height="48.75" fill="#55aef6" stroke="#336" stroke-width="0.6"/>
<rect x="1010" y="333" width="10.6" height="6.5" fill="#fff" stroke="#335" stroke-width="0.5"/>
<path d="M1013.25,346 L1013.25,351.5 L1007.75,351.5 Z M1013.75,346 L1022.85,346 L1022.85,349.2 L1013.75,349.2 Z" fill="#fff" stroke="#335" stroke-width="0.4"/>
</g>
<g transform="translate(0,703.75) scale(1,-1)">
<rect x="1024.4" y="327.5" width="18.1" height="48.75" fill="#55aef6" stroke="#336" stroke-width="0.6"/>
<rect x="1028.15" y="333" width="10.6" height="6.5" fill="#fff" stroke="#335" stroke-width="0.5"/>
<path d="M1031.4,346 L1031.4,351.5 L1025.9,351.5 Z M1031.9,346 L1041,346 L1041,349.2 L1031.9,349.2 Z" fill="#fff" stroke="#335" stroke-width="0.4"/>
</g>
<g transform="translate(0,706.25) scale(1,-1)">
<rect x="1150" y="328.75" width="18.75" height="48.75" fill="#55aef6" stroke="#336" stroke-width="0.6"/>
<rect x="1153.75" y="334.25" width="11.25" height="6.5" fill="#fff" stroke="#335" stroke-width="0.5"/>
<path d="M1161.75,347.25 L1161.75,352.75 L1167.25,352.75 Z M1161.25,347.25 L1151.5,347.25 L1151.5,350.45 L1161.25,350.45 Z" fill="#fff" stroke="#335" stroke-width="0.4"/>
</g>
<g transform="translate(0,706.25) scale(1,-1)">
<rect x="1168.75" y="328.75" width="18.75" height="48.75" fill="#55aef6" stroke="#336" stroke-width="0.6"/>
<rect x="1172.5" y="334.25" width="11.25" height="6.5" fill="#fff" stroke="#335" stroke-width="0.5"/>
<path d="M1180.5,347.25 L1180.5,352.75 L1186,352.75 Z M1180,347.25 L1170.25,347.25 L1170.25,350.45 L1180,350.45 Z" fill="#fff" stroke="#335" stroke-width="0.4"/>
</g>
<rect x="1066.25" y="311.25" width="16.75" height="43.75" fill="#9cfcfc" stroke="#888" stroke-width="0.7"/>
<rect x="1109.4" y="311.25" width="16.7" height="43.75" fill="#9cfcfc" stroke="#888" stroke-width="0.7"/>
<path d="M1042.5,327 Q1043,308 1060,306 M1150,327 Q1149,308 1132,306" fill="none" stroke="#333" stroke-width="0.6"/>
<path d="M1066,377.5 Q1067,358 1082.4,357.5 M1127.8,377.5 Q1126.5,358 1109.4,357.5" fill="none" stroke="#333" stroke-width="0.7"/>
<rect x="1043.5" y="369" width="8" height="8" fill="#bbb" stroke="#999" stroke-width="0.4"/><rect x="1142.5" y="369" width="8" height="8" fill="#bbb" stroke="#999" stroke-width="0.4"/>
<rect x="1041" y="380.5" width="15" height="11.5" fill="#bbb" stroke="#999" stroke-width="0.4"/><rect x="1136.5" y="380.5" width="15" height="11.5" fill="#bbb" stroke="#999" stroke-width="0.4"/>
<path d="M1011.25,338.7 L1018.25,335.3 L1018.25,337.4 L1033,337.4 L1033,335.3 L1040,338.7 L1033,342.1 L1033,340 L1018.25,340 L1018.25,342.1 Z" fill="#111"/>
<path d="M1153.75,339.5 L1160.75,336.1 L1160.75,338.2 L1175.5,338.2 L1175.5,336.1 L1182.5,339.5 L1175.5,342.9 L1175.5,340.8 L1160.75,340.8 L1160.75,342.9 Z" fill="#111"/>
<text x="1059.4" y="333.6" font-size="12" font-weight="bold" text-anchor="middle" fill="#d4d4d4" stroke="#151515" stroke-width="0.65" textLength="34" lengthAdjust="spacingAndGlyphs">Cabin</text>
<text x="1059.4" y="346.2" font-size="12.2" font-weight="bold" text-anchor="middle" fill="#d4d4d4" stroke="#151515" stroke-width="0.65">6</text>
<text x="1134.4" y="333.6" font-size="12" font-weight="bold" text-anchor="middle" fill="#d4d4d4" stroke="#151515" stroke-width="0.65" textLength="34" lengthAdjust="spacingAndGlyphs">Cabin</text>
<text x="1135.6" y="346.2" font-size="12.2" font-weight="bold" text-anchor="middle" fill="#d4d4d4" stroke="#151515" stroke-width="0.65">5</text>
<text x="1025.6" y="353.2" font-size="10.7" font-weight="bold" text-anchor="middle" fill="#1a1a78" textLength="72" lengthAdjust="spacingAndGlyphs">Twin or Double</text>
<text x="1179.4" y="355" font-size="10.7" font-weight="bold" text-anchor="middle" fill="#1a1a78" textLength="72" lengthAdjust="spacingAndGlyphs">Twin or Double</text>
<rect x="1002.5" y="379" width="18.75" height="50.75" fill="#55aef6" stroke="#336" stroke-width="0.6"/>
<rect x="1006.25" y="384.5" width="11.25" height="6.5" fill="#fff" stroke="#335" stroke-width="0.5"/>
<path d="M1009.5,397.5 L1009.5,403 L1004,403 Z M1010,397.5 L1019.75,397.5 L1019.75,400.7 L1010,400.7 Z" fill="#fff" stroke="#335" stroke-width="0.4"/>
<rect x="1021.25" y="379" width="18.75" height="50.75" fill="#55aef6" stroke="#336" stroke-width="0.6"/>
<rect x="1025" y="384.5" width="11.25" height="6.5" fill="#fff" stroke="#335" stroke-width="0.5"/>
<path d="M1028.25,397.5 L1028.25,403 L1022.75,403 Z M1028.75,397.5 L1038.5,397.5 L1038.5,400.7 L1028.75,400.7 Z" fill="#fff" stroke="#335" stroke-width="0.4"/>
<rect x="1152.5" y="379" width="18.1" height="50.75" fill="#55aef6" stroke="#336" stroke-width="0.6"/>
<rect x="1156.25" y="384.5" width="10.6" height="6.5" fill="#fff" stroke="#335" stroke-width="0.5"/>
<path d="M1163.6,397.5 L1163.6,403 L1169.1,403 Z M1163.1,397.5 L1154,397.5 L1154,400.7 L1163.1,400.7 Z" fill="#fff" stroke="#335" stroke-width="0.4"/>
<rect x="1170.6" y="379" width="18.1" height="50.75" fill="#55aef6" stroke="#336" stroke-width="0.6"/>
<rect x="1174.35" y="384.5" width="10.6" height="6.5" fill="#fff" stroke="#335" stroke-width="0.5"/>
<path d="M1181.7,397.5 L1181.7,403 L1187.2,403 Z M1181.2,397.5 L1172.1,397.5 L1172.1,400.7 L1181.2,400.7 Z" fill="#fff" stroke="#335" stroke-width="0.4"/>
<rect x="1000" y="429.75" width="18.75" height="17.25" fill="#b7afac" stroke="#444" stroke-width="0.7"/>
<line x1="1003" y1="432.25" x2="1003" y2="444.5" stroke="#333" stroke-width="0.7"/>
<line x1="1004.6" y1="432.25" x2="1004.6" y2="444.5" stroke="#333" stroke-width="0.7"/>
<line x1="1006.2" y1="432.25" x2="1006.2" y2="444.5" stroke="#333" stroke-width="0.7"/>
<line x1="1007.8" y1="432.25" x2="1007.8" y2="444.5" stroke="#333" stroke-width="0.7"/>
<line x1="1009.4" y1="432.25" x2="1009.4" y2="444.5" stroke="#333" stroke-width="0.7"/>
<line x1="1011" y1="432.25" x2="1011" y2="444.5" stroke="#333" stroke-width="0.7"/>
<line x1="1012.6" y1="432.25" x2="1012.6" y2="444.5" stroke="#333" stroke-width="0.7"/>
<line x1="1014.2" y1="432.25" x2="1014.2" y2="444.5" stroke="#333" stroke-width="0.7"/>
<line x1="1003" y1="438.38" x2="1015" y2="438.38" stroke="#333" stroke-width="0.8"/>
<rect x="1172.5" y="429.75" width="21.25" height="17.25" fill="#b7afac" stroke="#444" stroke-width="0.7"/>
<line x1="1176" y1="432.25" x2="1176" y2="444.5" stroke="#333" stroke-width="0.7"/>
<line x1="1177.6" y1="432.25" x2="1177.6" y2="444.5" stroke="#333" stroke-width="0.7"/>
<line x1="1179.2" y1="432.25" x2="1179.2" y2="444.5" stroke="#333" stroke-width="0.7"/>
<line x1="1180.8" y1="432.25" x2="1180.8" y2="444.5" stroke="#333" stroke-width="0.7"/>
<line x1="1182.4" y1="432.25" x2="1182.4" y2="444.5" stroke="#333" stroke-width="0.7"/>
<line x1="1184" y1="432.25" x2="1184" y2="444.5" stroke="#333" stroke-width="0.7"/>
<line x1="1185.6" y1="432.25" x2="1185.6" y2="444.5" stroke="#333" stroke-width="0.7"/>
<line x1="1187.2" y1="432.25" x2="1187.2" y2="444.5" stroke="#333" stroke-width="0.7"/>
<line x1="1188.8" y1="432.25" x2="1188.8" y2="444.5" stroke="#333" stroke-width="0.7"/>
<line x1="1176" y1="438.38" x2="1190" y2="438.38" stroke="#333" stroke-width="0.8"/>
<rect x="1018.75" y="429.75" width="6" height="17.25" fill="#b7afac" stroke="#888" stroke-width="0.5"/>
<rect x="1021.5" y="435" width="5.5" height="6.5" fill="#9cfcfc" stroke="#377" stroke-width="0.5"/>
<rect x="1166.5" y="436" width="5.5" height="6.5" fill="#9cfcfc" stroke="#377" stroke-width="0.5"/>
<path d="M1065,448.5 Q1066,431 1082.4,431 M1128.5,448.5 Q1127.5,431 1109.4,431" fill="none" stroke="#333" stroke-width="0.7"/>
<path d="M1007.5,418 L1014.5,414.6 L1014.5,416.7 L1028,416.7 L1028,414.6 L1035,418 L1028,421.4 L1028,419.3 L1014.5,419.3 L1014.5,421.4 Z" fill="#111"/>
<path d="M1156,418.5 L1163,415.1 L1163,417.2 L1178,417.2 L1178,415.1 L1185,418.5 L1178,421.9 L1178,419.8 L1163,419.8 L1163,421.9 Z" fill="#111"/>
<text x="1023.6" y="410" font-size="10.7" font-weight="bold" text-anchor="middle" fill="#1a1a78" textLength="72" lengthAdjust="spacingAndGlyphs">Twin or Double</text>
<text x="1177.3" y="411.6" font-size="10.7" font-weight="bold" text-anchor="middle" fill="#1a1a78" textLength="71.5" lengthAdjust="spacingAndGlyphs">Twin or Double</text>
<text x="1062.5" y="421" font-size="12" font-weight="bold" text-anchor="middle" fill="#d4d4d4" stroke="#151515" stroke-width="0.65" textLength="34" lengthAdjust="spacingAndGlyphs">Cabin</text>
<text x="1062.5" y="434.8" font-size="12.2" font-weight="bold" text-anchor="middle" fill="#d4d4d4" stroke="#151515" stroke-width="0.65">4</text>
<text x="1128.5" y="421" font-size="12" font-weight="bold" text-anchor="middle" fill="#d4d4d4" stroke="#151515" stroke-width="0.65" textLength="34" lengthAdjust="spacingAndGlyphs">Cabin</text>
<text x="1128.2" y="434.8" font-size="12.2" font-weight="bold" text-anchor="middle" fill="#d4d4d4" stroke="#151515" stroke-width="0.65">3</text>
<rect x="992.5" y="450.5" width="91.3" height="23.5" fill="#c9e2fa" stroke="#555" stroke-width="0.6"/>
<rect x="1109.4" y="450.5" width="88" height="23.5" fill="#c9e2fa" stroke="#555" stroke-width="0.6"/>
<rect x="983.75" y="455" width="8.75" height="12.5" fill="#fff" stroke="#555" stroke-width="0.6"/><rect x="1199.5" y="455" width="8.75" height="12.5" fill="#fff" stroke="#555" stroke-width="0.6"/>
<rect x="1060" y="451.5" width="22.5" height="22.5" fill="#c9e2fa" stroke="#333" stroke-width="1"/>
<rect x="1109.4" y="451.5" width="21.7" height="22.5" fill="#c9e2fa" stroke="#333" stroke-width="1"/>
<g transform="translate(1008.5,462.8) rotate(-90) scale(1.05)"><rect x="-4.5" y="-6" width="9" height="3" fill="#e6eef8" stroke="#333" stroke-width="0.6"/><path d="M-4,-3 L-4,3 Q-4,6 0,6 Q4,6 4,3 L4,-3 Z" fill="#fff" stroke="#333" stroke-width="0.7"/><circle cx="0" cy="1.5" r="1.2" fill="none" stroke="#333" stroke-width="0.5"/></g>
<g transform="translate(1186,463) rotate(90) scale(1.05)"><rect x="-4.5" y="-6" width="9" height="3" fill="#e6eef8" stroke="#333" stroke-width="0.6"/><path d="M-4,-3 L-4,3 Q-4,6 0,6 Q4,6 4,3 L4,-3 Z" fill="#fff" stroke="#333" stroke-width="0.7"/><circle cx="0" cy="1.5" r="1.2" fill="none" stroke="#333" stroke-width="0.5"/></g>
<rect x="1024" y="463.5" width="9" height="9" fill="#fff" stroke="#333" stroke-width="0.7"/><circle cx="1028.5" cy="468" r="1.5" fill="none" stroke="#333" stroke-width="0.5"/>
<rect x="1158.5" y="464.5" width="9" height="9" fill="#fff" stroke="#333" stroke-width="0.7"/><circle cx="1163" cy="469" r="1.5" fill="none" stroke="#333" stroke-width="0.5"/>
<path d="M1042.5,450.5 Q1043,468 1057.5,470 L1057.5,450.5 M1151.5,450.5 Q1151,468 1135.5,470 L1135.5,450.5" fill="none" stroke="#333" stroke-width="0.7"/>
<path d="M998,472 L1041,472 M1153,472 L1196,472" stroke="#555" stroke-width="0.6"/>
<rect x="997" y="476.5" width="18.4" height="49.5" fill="#55aef6" stroke="#336" stroke-width="0.6"/>
<rect x="1000.75" y="482" width="10.9" height="6.5" fill="#fff" stroke="#335" stroke-width="0.5"/>
<path d="M1004,495 L1004,500.5 L998.5,500.5 Z M1004.5,495 L1013.9,495 L1013.9,498.2 L1004.5,498.2 Z" fill="#fff" stroke="#335" stroke-width="0.4"/>
<rect x="1015.4" y="476.5" width="18.4" height="49.5" fill="#55aef6" stroke="#336" stroke-width="0.6"/>
<rect x="1019.15" y="482" width="10.9" height="6.5" fill="#fff" stroke="#335" stroke-width="0.5"/>
<path d="M1022.4,495 L1022.4,500.5 L1016.9,500.5 Z M1022.9,495 L1032.3,495 L1032.3,498.2 L1022.9,498.2 Z" fill="#fff" stroke="#335" stroke-width="0.4"/>
<rect x="1157.5" y="477" width="18.1" height="50" fill="#55aef6" stroke="#336" stroke-width="0.6"/>
<rect x="1161.25" y="482.5" width="10.6" height="6.5" fill="#fff" stroke="#335" stroke-width="0.5"/>
<path d="M1168.6,495.5 L1168.6,501 L1174.1,501 Z M1168.1,495.5 L1159,495.5 L1159,498.7 L1168.1,498.7 Z" fill="#fff" stroke="#335" stroke-width="0.4"/>
<rect x="1175.6" y="477" width="18.1" height="50" fill="#55aef6" stroke="#336" stroke-width="0.6"/>
<rect x="1179.35" y="482.5" width="10.6" height="6.5" fill="#fff" stroke="#335" stroke-width="0.5"/>
<path d="M1186.7,495.5 L1186.7,501 L1192.2,501 Z M1186.2,495.5 L1177.1,495.5 L1177.1,498.7 L1186.2,498.7 Z" fill="#fff" stroke="#335" stroke-width="0.4"/>
<rect x="992.5" y="526" width="21.25" height="18.75" fill="#b7afac" stroke="#444" stroke-width="0.7"/>
<line x1="996" y1="528.5" x2="996" y2="542.25" stroke="#333" stroke-width="0.7"/>
<line x1="997.6" y1="528.5" x2="997.6" y2="542.25" stroke="#333" stroke-width="0.7"/>
<line x1="999.2" y1="528.5" x2="999.2" y2="542.25" stroke="#333" stroke-width="0.7"/>
<line x1="1000.8" y1="528.5" x2="1000.8" y2="542.25" stroke="#333" stroke-width="0.7"/>
<line x1="1002.4" y1="528.5" x2="1002.4" y2="542.25" stroke="#333" stroke-width="0.7"/>
<line x1="1004" y1="528.5" x2="1004" y2="542.25" stroke="#333" stroke-width="0.7"/>
<line x1="1005.6" y1="528.5" x2="1005.6" y2="542.25" stroke="#333" stroke-width="0.7"/>
<line x1="1007.2" y1="528.5" x2="1007.2" y2="542.25" stroke="#333" stroke-width="0.7"/>
<line x1="1008.8" y1="528.5" x2="1008.8" y2="542.25" stroke="#333" stroke-width="0.7"/>
<line x1="996" y1="535.38" x2="1010" y2="535.38" stroke="#333" stroke-width="0.8"/>
<rect x="1177.5" y="527" width="16.25" height="19" fill="#b7afac" stroke="#444" stroke-width="0.7"/>
<line x1="1180" y1="529.5" x2="1180" y2="543.5" stroke="#333" stroke-width="0.7"/>
<line x1="1181.6" y1="529.5" x2="1181.6" y2="543.5" stroke="#333" stroke-width="0.7"/>
<line x1="1183.2" y1="529.5" x2="1183.2" y2="543.5" stroke="#333" stroke-width="0.7"/>
<line x1="1184.8" y1="529.5" x2="1184.8" y2="543.5" stroke="#333" stroke-width="0.7"/>
<line x1="1186.4" y1="529.5" x2="1186.4" y2="543.5" stroke="#333" stroke-width="0.7"/>
<line x1="1188" y1="529.5" x2="1188" y2="543.5" stroke="#333" stroke-width="0.7"/>
<line x1="1189.6" y1="529.5" x2="1189.6" y2="543.5" stroke="#333" stroke-width="0.7"/>
<line x1="1180" y1="536.5" x2="1191" y2="536.5" stroke="#333" stroke-width="0.8"/>
<rect x="1035" y="476.5" width="15" height="10.5" fill="#ccc" stroke="#888" stroke-width="0.5"/>
<rect x="1141.25" y="477" width="16.25" height="11.5" fill="none" stroke="#333" stroke-width="0.8"/><path d="M1141.25,477 L1157.5,488.5 M1157.5,477 L1141.25,488.5" stroke="#444" stroke-width="0.6"/>
<rect x="1169" y="533" width="5.5" height="6.5" fill="#9cfcfc" stroke="#377" stroke-width="0.5"/>
<g transform="translate(0,1048.25) scale(1,-1)">
<rect x="1075" y="503.5" width="17.5" height="41.25" fill="#55aef6" stroke="#336" stroke-width="0.6"/>
<rect x="1078.75" y="509" width="10" height="6.5" fill="#fff" stroke="#335" stroke-width="0.5"/>
<path d="M1082,522 L1082,527.5 L1076.5,527.5 Z M1082.5,522 L1091,522 L1091,525.2 L1082.5,525.2 Z" fill="#fff" stroke="#335" stroke-width="0.4"/>
</g>
<g transform="translate(0,1048.25) scale(1,-1)">
<rect x="1097.5" y="503.5" width="16.25" height="41.25" fill="#55aef6" stroke="#336" stroke-width="0.6"/>
<rect x="1101.25" y="509" width="8.75" height="6.5" fill="#fff" stroke="#335" stroke-width="0.5"/>
<path d="M1106.75,522 L1106.75,527.5 L1112.25,527.5 Z M1106.25,522 L1099,522 L1099,525.2 L1106.25,525.2 Z" fill="#fff" stroke="#335" stroke-width="0.4"/>
</g>
<path d="M1083.5,478 Q1073,488 1081,500 Q1088,488 1083.5,478 Z M1081,500 L1095,490.5 M1108.3,478 Q1119,488 1111,500 Q1104,488 1108.3,478 Z M1111,500 L1097.6,490.5" fill="none" stroke="#333" stroke-width="0.7"/>
<path d="M1096,490 L1096,546 M1097.4,490 L1097.4,546" stroke="#444" stroke-width="0.6"/><rect x="1096" y="490" width="1.4" height="56" fill="#fff"/>
<path d="M1001.25,514.2 L1008.25,510.8 L1008.25,512.9 L1023,512.9 L1023,510.8 L1030,514.2 L1023,517.6 L1023,515.5 L1008.25,515.5 L1008.25,517.6 Z" fill="#111"/>
<path d="M1161,515.2 L1168,511.8 L1168,513.9 L1183,513.9 L1183,511.8 L1190,515.2 L1183,518.6 L1183,516.5 L1168,516.5 L1168,518.6 Z" fill="#111"/>
<text x="1051.75" y="504.8" font-size="12" font-weight="bold" text-anchor="middle" fill="#d4d4d4" stroke="#151515" stroke-width="0.65" textLength="34" lengthAdjust="spacingAndGlyphs">Cabin</text>
<text x="1051.75" y="518.5" font-size="12.2" font-weight="bold" text-anchor="middle" fill="#d4d4d4" stroke="#151515" stroke-width="0.65">2</text>
<text x="1133.75" y="504.8" font-size="12" font-weight="bold" text-anchor="middle" fill="#d4d4d4" stroke="#151515" stroke-width="0.65" textLength="34" lengthAdjust="spacingAndGlyphs">Cabin</text>
<text x="1133.75" y="518.5" font-size="12.2" font-weight="bold" text-anchor="middle" fill="#d4d4d4" stroke="#151515" stroke-width="0.65">1</text>
<text x="1053.4" y="526.5" font-size="11.2" font-weight="bold" text-anchor="middle" fill="#1a1a78" textLength="80.2" lengthAdjust="spacingAndGlyphs">Twin or Double</text>
<text x="1038.7" y="539.3" font-size="11.2" font-weight="bold" text-anchor="middle" fill="#1a1a78" textLength="46" lengthAdjust="spacingAndGlyphs">&amp; Single</text>
<text x="1152.75" y="525.8" font-size="11.2" font-weight="bold" text-anchor="middle" fill="#1a1a78" textLength="80.5" lengthAdjust="spacingAndGlyphs">Twin or Double</text>
<text x="1137.75" y="538.6" font-size="11.2" font-weight="bold" text-anchor="middle" fill="#1a1a78" textLength="45.5" lengthAdjust="spacingAndGlyphs">&amp; Single</text>
<rect x="991.25" y="547" width="103.75" height="24" fill="#c9e2fa" stroke="#555" stroke-width="0.6"/>
<rect x="1096.25" y="547" width="102.5" height="24" fill="#c9e2fa" stroke="#555" stroke-width="0.6"/>
<rect x="983.75" y="552" width="8" height="12.5" fill="#fff" stroke="#555" stroke-width="0.6"/><rect x="1199.5" y="552" width="8.75" height="12.5" fill="#fff" stroke="#555" stroke-width="0.6"/>
<rect x="1071" y="548.5" width="22.75" height="22.5" fill="#c9e2fa" stroke="#333" stroke-width="1"/>
<rect x="1097" y="548.5" width="21.75" height="22.5" fill="#c9e2fa" stroke="#333" stroke-width="1"/>
<g transform="translate(1008,559) rotate(-90) scale(1.05)"><rect x="-4.5" y="-6" width="9" height="3" fill="#e6eef8" stroke="#333" stroke-width="0.6"/><path d="M-4,-3 L-4,3 Q-4,6 0,6 Q4,6 4,3 L4,-3 Z" fill="#fff" stroke="#333" stroke-width="0.7"/><circle cx="0" cy="1.5" r="1.2" fill="none" stroke="#333" stroke-width="0.5"/></g>
<g transform="translate(1186,559) rotate(90) scale(1.05)"><rect x="-4.5" y="-6" width="9" height="3" fill="#e6eef8" stroke="#333" stroke-width="0.6"/><path d="M-4,-3 L-4,3 Q-4,6 0,6 Q4,6 4,3 L4,-3 Z" fill="#fff" stroke="#333" stroke-width="0.7"/><circle cx="0" cy="1.5" r="1.2" fill="none" stroke="#333" stroke-width="0.5"/></g>
<rect x="1024" y="561" width="9" height="9" fill="#fff" stroke="#333" stroke-width="0.7"/><circle cx="1028.5" cy="565.5" r="1.5" fill="none" stroke="#333" stroke-width="0.5"/>
<path d="M1051.25,546 Q1052,562 1067.5,562.5 L1067.5,546 M1143.75,546 Q1143,562 1122,562.5 L1122,546" fill="none" stroke="#333" stroke-width="0.7"/>
<path d="M1139,571 Q1139,561 1148,561 Q1157.5,561 1157.5,571 M1148,563 L1148,568" fill="none" stroke="#222" stroke-width="0.7"/><circle cx="1148" cy="566" r="2" fill="none" stroke="#222" stroke-width="0.6"/>
<path d="M998,569 L1070,569" stroke="#555" stroke-width="0.6"/>
<path d="M991.25,574.75 L1073.75,574.75 L1073.75,591 L991.25,591 Z M991.25,574.75 L1073.75,591 M1073.75,574.75 L991.25,591" fill="none" stroke="#333" stroke-width="0.7"/>
<path d="M1116.25,574.75 L1198.75,574.75 L1198.75,591 L1116.25,591 Z M1116.25,574.75 L1198.75,591 M1198.75,574.75 L1116.25,591" fill="none" stroke="#333" stroke-width="0.7"/>
<rect x="1076.25" y="574.75" width="37.5" height="11.25" fill="none" stroke="#333" stroke-width="0.8"/><path d="M1076.25,574.75 L1113.75,586 M1113.75,574.75 L1076.25,586" stroke="#444" stroke-width="0.6"/>
<rect x="1078.75" y="586" width="32.5" height="48" fill="none" stroke="#333" stroke-width="0.8"/><path d="M1078.75,586 L1111.25,634 M1111.25,586 L1078.75,634" stroke="#444" stroke-width="0.6"/>
<path d="M1081,586 L1081,634 M1108.5,586 L1108.5,634" stroke="#555" stroke-width="0.5"/>
<path d="M991.25,591 L1000,655 M1018,591 L1030,655 M1198.75,591 L1190,655 M1172,591 L1163,655" stroke="#333" stroke-width="0.7"/>
<rect x="1048.75" y="603.5" width="17.5" height="31" fill="none" stroke="#333" stroke-width="0.8"/><path d="M1048.75,603.5 L1066.25,634.5 M1066.25,603.5 L1048.75,634.5" stroke="#444" stroke-width="0.6"/>
<rect x="1122.5" y="603.5" width="18.75" height="31" fill="none" stroke="#333" stroke-width="0.8"/><path d="M1122.5,603.5 L1141.25,634.5 M1141.25,603.5 L1122.5,634.5" stroke="#444" stroke-width="0.6"/>
<circle cx="1003.5" cy="604" r="3.2" fill="none" stroke="#333" stroke-width="0.7"/>
<circle cx="1005" cy="612.5" r="3.2" fill="none" stroke="#333" stroke-width="0.7"/>
<circle cx="1006" cy="621" r="3.2" fill="none" stroke="#333" stroke-width="0.7"/>
<circle cx="1007" cy="630" r="3.2" fill="none" stroke="#333" stroke-width="0.7"/>
<circle cx="1008" cy="639" r="3.2" fill="none" stroke="#333" stroke-width="0.7"/>
<rect x="1176.25" y="607" width="15" height="25" fill="none" stroke="#444" stroke-width="0.6"/><line x1="1176.25" y1="619.5" x2="1191.25" y2="619.5" stroke="#444" stroke-width="0.5"/>
<text x="1101.6" y="645.3" font-size="10.4"  text-anchor="middle" fill="#23237e" textLength="60" lengthAdjust="spacingAndGlyphs">Engine room</text>
<rect x="1013.75" y="654.5" width="29" height="8.75" fill="#fff" stroke="#333" stroke-width="0.7"/><rect x="1043.5" y="654.5" width="29" height="8.75" fill="#fff" stroke="#333" stroke-width="0.7"/>
<rect x="1118.75" y="645.75" width="22.5" height="17.5" fill="none" stroke="#555" stroke-width="0.6"/><rect x="1141.25" y="645.75" width="22.5" height="17.5" fill="none" stroke="#555" stroke-width="0.6"/>
<path d="M1074,663.5 L1074,645 Q1090,646 1092,663.5" fill="none" stroke="#333" stroke-width="0.7"/>
<path d="M983.28,664.5 L1073,664.5 M1093,664.5 L1205.31,664.5 M983.37,666.2 L1073,666.2 M1093,666.2 L1205.19,666.2" stroke="#4a4a4a" stroke-width="0.7"/>
<path d="M998.75,665.75 L998.75,707 Q998.75,710.75 1003,710.75 L1030,710.75 Q1033.75,710.75 1033.75,707 L1033.75,665.75" fill="none" stroke="#333" stroke-width="0.8"/>
<path d="M1000,666 L1012,754 M1012,666 L1022,710 M1167.5,666 L1160,754 M1188,666 L1178,754" stroke="#333" stroke-width="0.7"/>
<rect x="1004" y="667" width="9" height="5" fill="#fff" stroke="#444" stroke-width="0.5"/><rect x="1020" y="667" width="9" height="5" fill="#fff" stroke="#444" stroke-width="0.5"/><rect x="1172" y="667" width="9" height="5" fill="#fff" stroke="#444" stroke-width="0.5"/>
<path d="M1046.25,666 L1046.25,755 M1082.4,690 L1082.4,755" stroke="#333" stroke-width="0.8"/>
<path d="M1046.25,682.5 Q1062,682 1063.5,666" fill="none" stroke="#333" stroke-width="0.7"/>
<path d="M1071.25,688.3 L1090,688.3 M1071.25,690 L1163.75,690" stroke="#222" stroke-width="0.9"/>
<path d="M1071.25,673 Q1089,674 1090,688" fill="none" stroke="#333" stroke-width="0.7"/>
<rect x="1111.25" y="665.75" width="52.5" height="23.5" fill="#fff" stroke="#333" stroke-width="0.7"/>
<line x1="1115" y1="666.5" x2="1115" y2="689" stroke="#555" stroke-width="0.6"/>
<line x1="1119.8" y1="666.5" x2="1119.8" y2="689" stroke="#555" stroke-width="0.6"/>
<line x1="1124.6" y1="666.5" x2="1124.6" y2="689" stroke="#555" stroke-width="0.6"/>
<line x1="1129.4" y1="666.5" x2="1129.4" y2="689" stroke="#555" stroke-width="0.6"/>
<line x1="1134.2" y1="666.5" x2="1134.2" y2="689" stroke="#555" stroke-width="0.6"/>
<line x1="1139" y1="666.5" x2="1139" y2="689" stroke="#555" stroke-width="0.6"/>
<line x1="1143.8" y1="666.5" x2="1143.8" y2="689" stroke="#555" stroke-width="0.6"/>
<line x1="1148.6" y1="666.5" x2="1148.6" y2="689" stroke="#555" stroke-width="0.6"/>
<line x1="1153.4" y1="666.5" x2="1153.4" y2="689" stroke="#555" stroke-width="0.6"/>
<line x1="1158.2" y1="666.5" x2="1158.2" y2="689" stroke="#555" stroke-width="0.6"/>
<rect x="1121" y="690" width="31" height="5" fill="#fff" stroke="#777" stroke-width="0.5"/>
<rect x="1167.5" y="665.75" width="22.5" height="45" fill="none" stroke="#333" stroke-width="0.8"/><path d="M1163,711 L1190,711" stroke="#333" stroke-width="0.8"/>
<text x="1054.2" y="710.2" font-size="10.4"  text-anchor="start" fill="#23237e" textLength="25" lengthAdjust="spacingAndGlyphs">Crew</text>
<text x="1053.8" y="722.2" font-size="10.4"  text-anchor="start" fill="#23237e" textLength="35.6" lengthAdjust="spacingAndGlyphs">quaters</text>
<path d="M986.26,723 L1046,723 M1000,710.75 L1000,755" stroke="#333" stroke-width="0.7"/>
<path d="M1028,723 Q1029,742 1046,744" fill="none" stroke="#333" stroke-width="0.7"/>
<g transform="rotate(-30 1012 740)"><rect x="1005" y="735" width="6" height="10" fill="#fff" stroke="#333" stroke-width="0.6"/><ellipse cx="1016" cy="740" rx="5" ry="4" fill="#fff" stroke="#333" stroke-width="0.7"/></g>
<path d="M1033,755 Q1033,748 1040,747 L1040,755 Z" fill="#fff" stroke="#333" stroke-width="0.6"/>
<rect x="1046.25" y="738.25" width="20" height="16.25" fill="#fff" stroke="#333" stroke-width="0.8"/><circle cx="1051" cy="745" r="2.5" fill="none" stroke="#333" stroke-width="0.6"/><circle cx="1061" cy="745" r="2.5" fill="none" stroke="#333" stroke-width="0.6"/>
<rect x="1095" y="723.25" width="57.5" height="31.25" fill="#fff" stroke="#333" stroke-width="0.9"/><path d="M1095,733 L1152.5,733" stroke="#333" stroke-width="0.8"/>
<rect x="1098" y="725" width="7" height="5" fill="#fff" stroke="#444" stroke-width="0.5"/><rect x="1100" y="737" width="6" height="13" fill="#fff" stroke="#444" stroke-width="0.5"/>
<path d="M1152.5,711 L1152.5,755 M1190,711 L1190,755 M1158,740 L1188,740" stroke="#333" stroke-width="0.8"/>
<rect x="1156" y="745" width="8" height="8" fill="#fff" stroke="#444" stroke-width="0.5"/><rect x="1168" y="745" width="8" height="8" fill="#fff" stroke="#444" stroke-width="0.5"/>
<path d="M987.7,755.75 L1199.33,755.75" stroke="#4a4a4a" stroke-width="0.9"/>
<path d="M981.39,597.5 L994.84,597.5 M1194.84,597.5 L1208.29,597.5" stroke="#555" stroke-width="0.6"/>
<path d="M981.59,610.5 L995.82,610.5 M1193.66,610.5 L1207.89,610.5" stroke="#555" stroke-width="0.6"/>
<path d="M981.89,630 L997.29,630 M1191.87,630 L1207.27,630" stroke="#555" stroke-width="0.6"/>
<path d="M982.19,643 L998.37,643 M1190.57,643 L1206.75,643" stroke="#555" stroke-width="0.6"/>
<path d="M984.28,683 L1002.86,683 M1185.42,683 L1204,683" stroke="#555" stroke-width="0.6"/>
<path d="M984.93,695 L1004.23,695 M1183.85,695 L1203.15,695" stroke="#555" stroke-width="0.6"/>
<path d="M985.75,712 L1006.07,712 M1181.71,712 L1202.03,712" stroke="#555" stroke-width="0.6"/>
<path d="M986.36,725 L1007.46,725 M1180.11,725 L1201.21,725" stroke="#555" stroke-width="0.6"/>
<path d="M986.87,736 L1008.63,736 M1178.75,736 L1200.51,736" stroke="#555" stroke-width="0.6"/>
<path d="M987.34,747 L1009.76,747 M1177.42,747 L1199.84,747" stroke="#555" stroke-width="0.6"/>
<path d="M1014,757 L1014,792 Q1096,808 1172,792 L1172,757 Z" fill="#fff" stroke="#333" stroke-width="0.8"/>
<path d="M1016.5,759 L1016.5,789.5 Q1096,805 1169.5,789.5 L1169.5,759 Z" fill="none" stroke="#444" stroke-width="0.6"/>
<path d="M994,784 L1013,784 L1013,790 L994,790.5 Z" fill="#fff" stroke="#444" stroke-width="0.7"/>
<path d="M994,790.3 L1013,790.3 L1013,796.3 L994,796.8 Z" fill="#fff" stroke="#444" stroke-width="0.7"/>
<path d="M994,796.6 L1013,796.6 L1013,802.6 L994,803.1 Z" fill="#fff" stroke="#444" stroke-width="0.7"/>
<path d="M1179,784 L1198,784 L1198,790 L1179,790.5 Z" fill="#fff" stroke="#444" stroke-width="0.7"/>
<path d="M1179,790.3 L1198,790.3 L1198,796.3 L1179,796.8 Z" fill="#fff" stroke="#444" stroke-width="0.7"/>
<path d="M1179,796.6 L1198,796.6 L1198,802.6 L1179,803.1 Z" fill="#fff" stroke="#444" stroke-width="0.7"/>
<rect x="1082.4" y="262.3" width="2.2" height="215.7" fill="#fff"/><rect x="1107.2" y="262.3" width="2.2" height="215.7" fill="#fff"/>
<path d="M1082.4,195 L1082.4,478 M1084.6,195 L1084.6,478 M1107.2,195 L1107.2,478 M1109.4,195 L1109.4,478" stroke="#4a4a4a" stroke-width="0.7"/>
<text x="185.6" y="873.3" font-size="24.8" text-anchor="middle" fill="#111" textLength="119.8" lengthAdjust="spacingAndGlyphs">SUNDECK</text>
<text x="508.5" y="873.3" font-size="24.8" text-anchor="middle" fill="#111" textLength="159.5" lengthAdjust="spacingAndGlyphs">UPPER DECK</text>
<text x="805.9" y="873.3" font-size="24.8" text-anchor="middle" fill="#111" textLength="136.5" lengthAdjust="spacingAndGlyphs">MAIN DECK</text>
<text x="1101.9" y="873.3" font-size="24.8" text-anchor="middle" fill="#111" textLength="164.5" lengthAdjust="spacingAndGlyphs">LOWER DECK</text>
</svg></body></html>
